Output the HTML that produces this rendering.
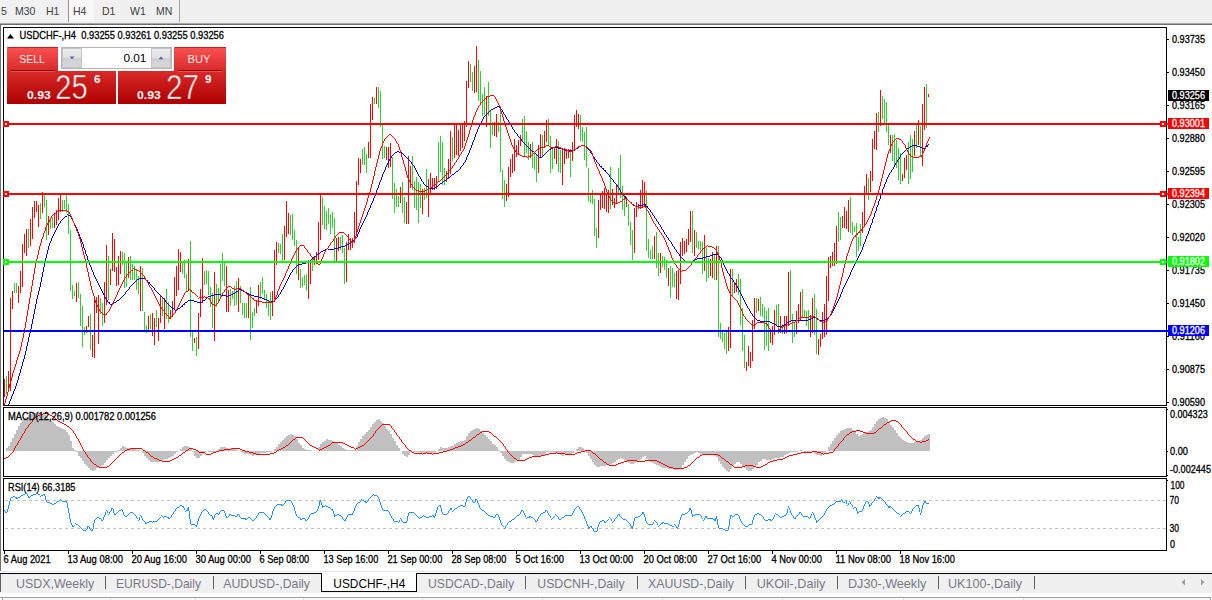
<!DOCTYPE html>
<html><head><meta charset="utf-8"><title>USDCHF-,H4</title>
<style>
html,body{margin:0;padding:0;background:#fff;}
body{width:1212px;height:600px;position:relative;overflow:hidden;font-family:"Liberation Sans",sans-serif;}
.tb{position:absolute;left:0;top:0;width:1212px;height:23px;background:#f0f0f0;}
.tb span{position:absolute;top:5px;font-size:10.5px;color:#404040;line-height:12px;white-space:nowrap;}
.l1{position:absolute;left:0;top:23px;width:1212px;height:1px;background:#a8a8a8;}
.l2{position:absolute;left:0;top:24px;width:1212px;height:1px;background:#6c6c6c;}
.lg{position:absolute;left:0;top:25px;width:1px;height:546px;background:#707070;}
.h4{position:absolute;left:69px;top:0;width:25px;height:21px;background:#f8f8f8;}
.vs{position:absolute;top:0;width:1px;height:22px;background:#a0a0a0;}
.oc{position:absolute;color:#fff;white-space:nowrap;}
</style></head><body>
<div class="tb">
<div class="h4"></div><div class="vs" style="left:68px;background:#909090"></div><div class="vs" style="left:179px"></div>
<span style="left:1px">5</span><span style="left:15px">M30</span><span style="left:46px">H1</span><span style="left:73px">H4</span><span style="left:102px">D1</span><span style="left:130px">W1</span><span style="left:156px">MN</span>
</div>
<div class="l1"></div><div class="l2"></div><div class="lg"></div>
<svg width="1212" height="600" viewBox="0 0 1212 600" style="position:absolute;left:0;top:0" font-family="Liberation Sans, sans-serif">
<g shape-rendering="crispEdges" fill="none" stroke="#000" stroke-width="1">
<rect x="3.5" y="27.5" width="1163" height="378"/>
<rect x="3.5" y="407.5" width="1163" height="69"/>
<rect x="3.5" y="478.5" width="1163" height="72"/>
<path d="M1167 39.5H1169"/>
<path d="M1167 72.5H1169"/>
<path d="M1167 105.5H1169"/>
<path d="M1167 138.5H1169"/>
<path d="M1167 171.5H1169"/>
<path d="M1167 204.5H1169"/>
<path d="M1167 237.5H1169"/>
<path d="M1167 270.5H1169"/>
<path d="M1167 303.5H1169"/>
<path d="M1167 336.5H1169"/>
<path d="M1167 369.5H1169"/>
<path d="M1167 402.5H1169"/>
<path d="M1167 409.5H1168M1167 451.5H1168M1167 475.5H1168M1167 480.5H1168"/>
<path d="M4.5 551V554"/>
<path d="M68.5 551V554"/>
<path d="M132.5 551V554"/>
<path d="M196.5 551V554"/>
<path d="M260.5 551V554"/>
<path d="M324.5 551V554"/>
<path d="M388.5 551V554"/>
<path d="M452.5 551V554"/>
<path d="M516.5 551V554"/>
<path d="M580.5 551V554"/>
<path d="M644.5 551V554"/>
<path d="M708.5 551V554"/>
<path d="M772.5 551V554"/>
<path d="M836.5 551V554"/>
<path d="M900.5 551V554"/>
</g>
<g shape-rendering="crispEdges" stroke="#c0c0c0" stroke-width="1" stroke-dasharray="3 3"><path d="M5 500.5H1166M5 528.5H1166"/></g>
<path shape-rendering="crispEdges" d="M4 451L4 451L6 451L6 448L8 448L8 446L10 446L10 442L12 442L12 438L14 438L14 434L16 434L16 430L18 430L18 426L20 426L20 423L22 423L22 420L24 420L24 418L26 418L26 417L28 417L28 415L30 415L30 414L32 414L32 413L34 413L34 413L36 413L36 412L38 412L38 413L40 413L40 414L42 414L42 414L44 414L44 415L46 415L46 417L48 417L48 419L50 419L50 421L52 421L52 422L54 422L54 424L56 424L56 426L58 426L58 427L60 427L60 428L62 428L62 429L64 429L64 430L66 430L66 432L68 432L68 435L70 435L70 441L72 441L72 448L74 448L74 450L76 450L76 452L78 452L78 456L80 456L80 458L82 458L82 461L84 461L84 464L86 464L86 466L88 466L88 468L90 468L90 470L92 470L92 471L94 471L94 470L96 470L96 468L98 468L98 467L100 467L100 466L102 466L102 465L104 465L104 463L106 463L106 460L108 460L108 458L110 458L110 456L112 456L112 454L114 454L114 452L116 452L116 452L118 452L118 450L120 450L120 448L122 448L122 446L124 446L124 447L126 447L126 448L128 448L128 448L130 448L130 448L132 448L132 448L134 448L134 449L136 449L136 450L138 450L138 450L140 450L140 451L142 451L142 453L144 453L144 456L146 456L146 458L148 458L148 460L150 460L150 462L152 462L152 462L154 462L154 462L156 462L156 462L158 462L158 462L160 462L160 461L162 461L162 460L164 460L164 459L166 459L166 459L168 459L168 458L170 458L170 457L172 457L172 456L174 456L174 454L176 454L176 452L178 452L178 451L180 451L180 449L182 449L182 447L184 447L184 446L186 446L186 446L188 446L188 447L190 447L190 449L192 449L192 452L194 452L194 456L196 456L196 458L198 458L198 458L200 458L200 456L202 456L202 454L204 454L204 452L206 452L206 451L208 451L208 452L210 452L210 452L212 452L212 452L214 452L214 452L216 452L216 452L218 452L218 449L220 449L220 447L222 447L222 447L224 447L224 447L226 447L226 448L228 448L228 449L230 449L230 449L232 449L232 449L234 449L234 449L236 449L236 450L238 450L238 451L240 451L240 452L242 452L242 453L244 453L244 454L246 454L246 454L248 454L248 454L250 454L250 455L252 455L252 456L254 456L254 455L256 455L256 454L258 454L258 454L260 454L260 453L262 453L262 453L264 453L264 453L266 453L266 452L268 452L268 452L270 452L270 452L272 452L272 451L274 451L274 449L276 449L276 447L278 447L278 444L280 444L280 442L282 442L282 440L284 440L284 438L286 438L286 436L288 436L288 435L290 435L290 434L292 434L292 435L294 435L294 436L296 436L296 439L298 439L298 443L300 443L300 445L302 445L302 448L304 448L304 449L306 449L306 450L308 450L308 450L310 450L310 450L312 450L312 451L314 451L314 451L316 451L316 451L318 451L318 447L320 447L320 444L322 444L322 442L324 442L324 441L326 441L326 439L328 439L328 440L330 440L330 440L332 440L332 441L334 441L334 442L336 442L336 443L338 443L338 445L340 445L340 446L342 446L342 448L344 448L344 449L346 449L346 450L348 450L348 450L350 450L350 450L352 450L352 450L354 450L354 450L356 450L356 446L358 446L358 442L360 442L360 439L362 439L362 436L364 436L364 434L366 434L366 432L368 432L368 430L370 430L370 427L372 427L372 424L374 424L374 422L376 422L376 420L378 420L378 419L380 419L380 421L382 421L382 423L384 423L384 426L386 426L386 429L388 429L388 431L390 431L390 434L392 434L392 438L394 438L394 441L396 441L396 445L398 445L398 448L400 448L400 451L402 451L402 454L404 454L404 456L406 456L406 457L408 457L408 455L410 455L410 452L412 452L412 452L414 452L414 452L416 452L416 452L418 452L418 452L420 452L420 453L422 453L422 453L424 453L424 453L426 453L426 453L428 453L428 453L430 453L430 453L432 453L432 453L434 453L434 452L436 452L436 451L438 451L438 449L440 449L440 447L442 447L442 448L444 448L444 448L446 448L446 448L448 448L448 447L450 447L450 446L452 446L452 446L454 446L454 444L456 444L456 443L458 443L458 442L460 442L460 441L462 441L462 441L464 441L464 440L466 440L466 436L468 436L468 433L470 433L470 431L472 431L472 430L474 430L474 429L476 429L476 428L478 428L478 429L480 429L480 431L482 431L482 433L484 433L484 435L486 435L486 437L488 437L488 439L490 439L490 441L492 441L492 444L494 444L494 445L496 445L496 447L498 447L498 450L500 450L500 453L502 453L502 456L504 456L504 459L506 459L506 461L508 461L508 462L510 462L510 463L512 463L512 463L514 463L514 462L516 462L516 461L518 461L518 460L520 460L520 457L522 457L522 454L524 454L524 454L526 454L526 454L528 454L528 454L530 454L530 454L532 454L532 455L534 455L534 456L536 456L536 456L538 456L538 456L540 456L540 456L542 456L542 455L544 455L544 454L546 454L546 452L548 452L548 452L550 452L550 452L552 452L552 452L554 452L554 453L556 453L556 453L558 453L558 454L560 454L560 455L562 455L562 456L564 456L564 454L566 454L566 454L568 454L568 454L570 454L570 454L572 454L572 453L574 453L574 451L576 451L576 449L578 449L578 447L580 447L580 447L582 447L582 448L584 448L584 450L586 450L586 453L588 453L588 456L590 456L590 459L592 459L592 462L594 462L594 465L596 465L596 467L598 467L598 467L600 467L600 466L602 466L602 466L604 466L604 466L606 466L606 465L608 465L608 465L610 465L610 464L612 464L612 463L614 463L614 462L616 462L616 460L618 460L618 459L620 459L620 458L622 458L622 459L624 459L624 460L626 460L626 462L628 462L628 463L630 463L630 464L632 464L632 464L634 464L634 463L636 463L636 462L638 462L638 460L640 460L640 459L642 459L642 457L644 457L644 456L646 456L646 459L648 459L648 461L650 461L650 462L652 462L652 463L654 463L654 464L656 464L656 465L658 465L658 466L660 466L660 467L662 467L662 468L664 468L664 468L666 468L666 468L668 468L668 469L670 469L670 469L672 469L672 469L674 469L674 470L676 470L676 470L678 470L678 469L680 469L680 468L682 468L682 465L684 465L684 462L686 462L686 459L688 459L688 456L690 456L690 455L692 455L692 454L694 454L694 453L696 453L696 452L698 452L698 453L700 453L700 454L702 454L702 454L704 454L704 454L706 454L706 454L708 454L708 454L710 454L710 455L712 455L712 455L714 455L714 456L716 456L716 457L718 457L718 461L720 461L720 464L722 464L722 467L724 467L724 469L726 469L726 471L728 471L728 472L730 472L730 469L732 469L732 466L734 466L734 464L736 464L736 462L738 462L738 462L740 462L740 464L742 464L742 466L744 466L744 468L746 468L746 470L748 470L748 471L750 471L750 471L752 471L752 469L754 469L754 467L756 467L756 465L758 465L758 462L760 462L760 461L762 461L762 459L764 459L764 459L766 459L766 460L768 460L768 460L770 460L770 460L772 460L772 459L774 459L774 458L776 458L776 458L778 458L778 458L780 458L780 457L782 457L782 457L784 457L784 455L786 455L786 454L788 454L788 453L790 453L790 452L792 452L792 452L794 452L794 452L796 452L796 452L798 452L798 451L800 451L800 450L802 450L802 451L804 451L804 452L806 452L806 452L808 452L808 452L810 452L810 452L812 452L812 452L814 452L814 454L816 454L816 455L818 455L818 455L820 455L820 456L822 456L822 454L824 454L824 452L826 452L826 451L828 451L828 447L830 447L830 444L832 444L832 441L834 441L834 438L836 438L836 435L838 435L838 433L840 433L840 431L842 431L842 430L844 430L844 429L846 429L846 428L848 428L848 428L850 428L850 428L852 428L852 430L854 430L854 432L856 432L856 434L858 434L858 436L860 436L860 435L862 435L862 434L864 434L864 433L866 433L866 432L868 432L868 431L870 431L870 430L872 430L872 427L874 427L874 424L876 424L876 421L878 421L878 419L880 419L880 418L882 418L882 417L884 417L884 418L886 418L886 419L888 419L888 422L890 422L890 425L892 425L892 427L894 427L894 430L896 430L896 433L898 433L898 436L900 436L900 438L902 438L902 440L904 440L904 441L906 441L906 442L908 442L908 443L910 443L910 443L912 443L912 443L914 443L914 442L916 442L916 441L918 441L918 441L920 441L920 440L922 440L922 438L924 438L924 436L926 436L926 435L928 435L928 434L930 434L930 451Z" fill="#c0c0c0"/>
<path shape-rendering="crispEdges" d="M4.5 458V459M5.5 458V459M6.5 457V458M7.5 457V458M8.5 456V457M9.5 455V456M10.5 454V455M11.5 453V454M12.5 452V453M13.5 450V452M14.5 448V450M15.5 446V448M16.5 445V446M17.5 443V445M18.5 441V443M19.5 440V441M20.5 438V440M21.5 436V438M22.5 434V436M23.5 433V434M24.5 431V433M25.5 429V431M26.5 428V429M27.5 427V428M28.5 425V427M29.5 424V425M30.5 423V424M31.5 422V423M32.5 420V422M33.5 419V420M34.5 418V419M35.5 417V418M36.5 416V417M37.5 416V417M38.5 415V416M39.5 415V416M40.5 414V415M41.5 414V415M42.5 414V415M43.5 413V414M44.5 413V414M45.5 413V414M46.5 413V414M47.5 413V414M48.5 414V415M49.5 414V415M50.5 415V416M51.5 415V416M52.5 416V417M53.5 416V417M54.5 417V418M55.5 418V419M56.5 419V420M57.5 420V421M58.5 421V422M59.5 421V422M60.5 422V423M61.5 422V423M62.5 423V424M63.5 423V424M64.5 424V425M65.5 424V425M66.5 425V426M67.5 426V427M68.5 426V427M69.5 427V428M70.5 428V429M71.5 429V430M72.5 430V431M73.5 431V433M74.5 433V434M75.5 434V436M76.5 436V438M77.5 438V439M78.5 439V441M79.5 441V443M80.5 443V445M81.5 445V447M82.5 447V449M83.5 449V451M84.5 451V452M85.5 452V454M86.5 454V455M87.5 455V457M88.5 457V458M89.5 458V459M90.5 459V461M91.5 461V462M92.5 462V463M93.5 463V464M94.5 464V465M95.5 464V465M96.5 465V466M97.5 466V467M98.5 466V467M99.5 467V468M100.5 467V468M101.5 467V468M102.5 467V468M103.5 467V468M104.5 467V468M105.5 467V468M106.5 467V468M107.5 466V467M108.5 466V467M109.5 465V466M110.5 464V465M111.5 463V464M112.5 462V463M113.5 461V462M114.5 460V461M115.5 459V460M116.5 458V459M117.5 457V458M118.5 456V457M119.5 455V456M120.5 454V455M121.5 453V454M122.5 452V453M123.5 452V453M124.5 451V452M125.5 450V451M126.5 450V451M127.5 449V450M128.5 449V450M129.5 449V450M130.5 448V449M131.5 448V449M132.5 448V449M133.5 448V449M134.5 448V449M135.5 448V449M136.5 448V449M137.5 448V449M138.5 448V449M139.5 448V449M140.5 448V449M141.5 448V449M142.5 449V450M143.5 450V451M144.5 450V451M145.5 451V452M146.5 452V453M147.5 452V453M148.5 453V454M149.5 454V455M150.5 455V456M151.5 456V457M152.5 456V457M153.5 457V458M154.5 458V459M155.5 458V459M156.5 458V459M157.5 459V460M158.5 459V460M159.5 460V461M160.5 460V461M161.5 460V461M162.5 461V462M163.5 461V462M164.5 461V462M165.5 461V462M166.5 461V462M167.5 461V462M168.5 461V462M169.5 461V462M170.5 460V461M171.5 460V461M172.5 459V460M173.5 459V460M174.5 458V459M175.5 458V459M176.5 457V458M177.5 457V458M178.5 456V457M179.5 455V456M180.5 455V456M181.5 454V455M182.5 453V454M183.5 452V453M184.5 452V453M185.5 451V452M186.5 450V451M187.5 450V451M188.5 449V450M189.5 448V449M190.5 448V449M191.5 448V449M192.5 448V449M193.5 449V450M194.5 449V450M195.5 449V450M196.5 450V451M197.5 450V451M198.5 451V452M199.5 452V453M200.5 452V453M201.5 452V453M202.5 452V453M203.5 452V453M204.5 452V453M205.5 453V454M206.5 454V455M207.5 454V455M208.5 454V455M209.5 454V455M210.5 454V455M211.5 453V454M212.5 453V454M213.5 452V453M214.5 452V453M215.5 452V453M216.5 451V452M217.5 451V452M218.5 451V452M219.5 450V451M220.5 450V451M221.5 450V451M222.5 450V451M223.5 450V451M224.5 449V450M225.5 449V450M226.5 449V450M227.5 449V450M228.5 449V450M229.5 449V450M230.5 449V450M231.5 448V449M232.5 448V449M233.5 448V449M234.5 448V449M235.5 448V449M236.5 448V449M237.5 448V449M238.5 448V449M239.5 448V449M240.5 449V450M241.5 449V450M242.5 450V451M243.5 450V451M244.5 450V451M245.5 451V452M246.5 451V452M247.5 451V452M248.5 451V452M249.5 452V453M250.5 452V453M251.5 452V453M252.5 452V453M253.5 453V454M254.5 453V454M255.5 453V454M256.5 454V455M257.5 454V455M258.5 454V455M259.5 454V455M260.5 454V455M261.5 454V455M262.5 454V455M263.5 454V455M264.5 454V455M265.5 454V455M266.5 454V455M267.5 454V455M268.5 454V455M269.5 454V455M270.5 453V454M271.5 453V454M272.5 453V454M273.5 453V454M274.5 452V453M275.5 452V453M276.5 451V452M277.5 450V451M278.5 450V451M279.5 449V450M280.5 449V450M281.5 448V449M282.5 448V449M283.5 447V448M284.5 447V448M285.5 446V447M286.5 445V446M287.5 445V446M288.5 444V445M289.5 443V444M290.5 442V443M291.5 441V442M292.5 440V441M293.5 439V440M294.5 439V440M295.5 438V439M296.5 437V438M297.5 437V438M298.5 437V438M299.5 437V438M300.5 437V438M301.5 437V438M302.5 437V438M303.5 438V439M304.5 439V440M305.5 440V441M306.5 441V442M307.5 442V443M308.5 443V444M309.5 444V445M310.5 445V446M311.5 445V446M312.5 446V447M313.5 446V447M314.5 447V448M315.5 447V448M316.5 448V449M317.5 448V449M318.5 449V450M319.5 450V451M320.5 449V450M321.5 449V450M322.5 448V449M323.5 448V449M324.5 447V448M325.5 447V448M326.5 446V447M327.5 446V447M328.5 445V446M329.5 445V446M330.5 444V445M331.5 443V444M332.5 442V443M333.5 442V443M334.5 442V443M335.5 442V443M336.5 442V443M337.5 442V443M338.5 442V443M339.5 442V443M340.5 442V443M341.5 442V443M342.5 442V443M343.5 443V444M344.5 443V444M345.5 444V445M346.5 444V445M347.5 445V446M348.5 445V446M349.5 446V447M350.5 446V447M351.5 447V448M352.5 447V448M353.5 447V448M354.5 448V449M355.5 449V450M356.5 448V449M357.5 448V449M358.5 447V448M359.5 447V448M360.5 446V447M361.5 446V447M362.5 445V446M363.5 445V446M364.5 444V445M365.5 443V444M366.5 442V443M367.5 441V442M368.5 440V441M369.5 439V440M370.5 438V439M371.5 437V438M372.5 436V437M373.5 434V436M374.5 433V434M375.5 431V433M376.5 430V431M377.5 429V430M378.5 428V429M379.5 427V428M380.5 426V427M381.5 425V426M382.5 424V425M383.5 424V425M384.5 424V425M385.5 424V425M386.5 424V425M387.5 424V425M388.5 424V425M389.5 424V425M390.5 425V426M391.5 426V428M392.5 428V429M393.5 429V430M394.5 430V432M395.5 432V433M396.5 433V435M397.5 435V436M398.5 436V437M399.5 437V439M400.5 439V440M401.5 440V442M402.5 442V443M403.5 443V444M404.5 444V445M405.5 445V447M406.5 447V448M407.5 448V449M408.5 449V450M409.5 450V451M410.5 450V451M411.5 451V452M412.5 452V453M413.5 452V453M414.5 453V454M415.5 453V454M416.5 453V454M417.5 453V454M418.5 453V454M419.5 453V454M420.5 453V454M421.5 453V454M422.5 454V455M423.5 453V454M424.5 453V454M425.5 453V454M426.5 452V453M427.5 453V454M428.5 453V454M429.5 453V454M430.5 453V454M431.5 453V454M432.5 454V455M433.5 453V454M434.5 453V454M435.5 453V454M436.5 453V454M437.5 453V454M438.5 453V454M439.5 452V453M440.5 452V453M441.5 452V453M442.5 452V453M443.5 451V452M444.5 451V452M445.5 451V452M446.5 451V452M447.5 450V451M448.5 450V451M449.5 450V451M450.5 449V450M451.5 449V450M452.5 449V450M453.5 448V449M454.5 448V449M455.5 447V448M456.5 447V448M457.5 447V448M458.5 446V447M459.5 446V447M460.5 446V447M461.5 445V446M462.5 445V446M463.5 444V445M464.5 444V445M465.5 443V444M466.5 442V443M467.5 442V443M468.5 441V442M469.5 440V441M470.5 440V441M471.5 439V440M472.5 438V439M473.5 437V438M474.5 437V438M475.5 436V437M476.5 435V436M477.5 434V435M478.5 434V435M479.5 433V434M480.5 432V433M481.5 432V433M482.5 431V432M483.5 431V432M484.5 431V432M485.5 431V432M486.5 431V432M487.5 431V432M488.5 431V432M489.5 432V433M490.5 432V433M491.5 433V434M492.5 434V435M493.5 435V436M494.5 436V437M495.5 436V437M496.5 437V438M497.5 438V439M498.5 439V440M499.5 440V441M500.5 441V442M501.5 442V443M502.5 443V444M503.5 444V446M504.5 446V447M505.5 447V449M506.5 449V450M507.5 450V452M508.5 452V453M509.5 453V454M510.5 454V455M511.5 455V456M512.5 456V457M513.5 457V458M514.5 458V459M515.5 458V459M516.5 459V460M517.5 460V461M518.5 460V461M519.5 460V461M520.5 460V461M521.5 460V461M522.5 460V461M523.5 460V461M524.5 460V461M525.5 459V460M526.5 459V460M527.5 458V459M528.5 458V459M529.5 457V458M530.5 457V458M531.5 457V458M532.5 456V457M533.5 456V457M534.5 456V457M535.5 456V457M536.5 456V457M537.5 456V457M538.5 456V457M539.5 456V457M540.5 456V457M541.5 455V456M542.5 455V456M543.5 455V456M544.5 455V456M545.5 454V455M546.5 454V455M547.5 454V455M548.5 454V455M549.5 453V454M550.5 453V454M551.5 453V454M552.5 453V454M553.5 453V454M554.5 453V454M555.5 453V454M556.5 452V453M557.5 453V454M558.5 453V454M559.5 453V454M560.5 453V454M561.5 453V454M562.5 453V454M563.5 453V454M564.5 453V454M565.5 454V455M566.5 454V455M567.5 454V455M568.5 454V455M569.5 454V455M570.5 454V455M571.5 454V455M572.5 454V455M573.5 454V455M574.5 454V455M575.5 453V454M576.5 453V454M577.5 452V453M578.5 452V453M579.5 452V453M580.5 452V453M581.5 451V452M582.5 451V452M583.5 451V452M584.5 451V452M585.5 450V451M586.5 450V451M587.5 450V451M588.5 450V451M589.5 450V451M590.5 450V451M591.5 451V452M592.5 452V453M593.5 453V454M594.5 453V454M595.5 454V455M596.5 455V456M597.5 456V457M598.5 457V458M599.5 458V459M600.5 459V460M601.5 459V460M602.5 460V461M603.5 461V462M604.5 462V463M605.5 462V463M606.5 463V464M607.5 464V465M608.5 464V465M609.5 465V466M610.5 465V466M611.5 465V466M612.5 465V466M613.5 465V466M614.5 465V466M615.5 465V466M616.5 464V465M617.5 464V465M618.5 463V464M619.5 463V464M620.5 463V464M621.5 462V463M622.5 462V463M623.5 462V463M624.5 461V462M625.5 461V462M626.5 461V462M627.5 460V461M628.5 460V461M629.5 460V461M630.5 460V461M631.5 460V461M632.5 460V461M633.5 460V461M634.5 460V461M635.5 460V461M636.5 460V461M637.5 461V462M638.5 461V462M639.5 461V462M640.5 461V462M641.5 461V462M642.5 461V462M643.5 461V462M644.5 461V462M645.5 460V461M646.5 460V461M647.5 460V461M648.5 460V461M649.5 460V461M650.5 460V461M651.5 460V461M652.5 460V461M653.5 460V461M654.5 460V461M655.5 460V461M656.5 460V461M657.5 461V462M658.5 461V462M659.5 462V463M660.5 462V463M661.5 463V464M662.5 463V464M663.5 464V465M664.5 464V465M665.5 465V466M666.5 465V466M667.5 466V467M668.5 466V467M669.5 467V468M670.5 467V468M671.5 467V468M672.5 467V468M673.5 468V469M674.5 468V469M675.5 468V469M676.5 468V469M677.5 468V469M678.5 468V469M679.5 468V469M680.5 468V469M681.5 468V469M682.5 468V469M683.5 468V469M684.5 467V468M685.5 467V468M686.5 467V468M687.5 466V467M688.5 465V466M689.5 465V466M690.5 464V465M691.5 463V464M692.5 462V463M693.5 461V462M694.5 460V461M695.5 459V460M696.5 458V459M697.5 457V458M698.5 457V458M699.5 456V457M700.5 455V456M701.5 455V456M702.5 454V455M703.5 454V455M704.5 454V455M705.5 454V455M706.5 454V455M707.5 454V455M708.5 454V455M709.5 454V455M710.5 454V455M711.5 454V455M712.5 454V455M713.5 454V455M714.5 454V455M715.5 454V455M716.5 454V455M717.5 454V455M718.5 455V456M719.5 455V456M720.5 456V457M721.5 457V458M722.5 458V459M723.5 458V459M724.5 459V460M725.5 460V461M726.5 461V462M727.5 461V462M728.5 462V463M729.5 463V464M730.5 464V465M731.5 464V465M732.5 465V466M733.5 466V467M734.5 467V468M735.5 467V468M736.5 467V468M737.5 467V468M738.5 467V468M739.5 467V468M740.5 467V468M741.5 467V468M742.5 466V467M743.5 466V467M744.5 466V467M745.5 465V466M746.5 465V466M747.5 465V466M748.5 465V466M749.5 465V466M750.5 465V466M751.5 465V466M752.5 465V466M753.5 466V467M754.5 466V467M755.5 466V467M756.5 467V468M757.5 467V468M758.5 467V468M759.5 467V468M760.5 467V468M761.5 466V467M762.5 466V467M763.5 465V466M764.5 465V466M765.5 464V465M766.5 464V465M767.5 463V464M768.5 462V463M769.5 462V463M770.5 461V462M771.5 461V462M772.5 461V462M773.5 460V461M774.5 460V461M775.5 460V461M776.5 460V461M777.5 459V460M778.5 459V460M779.5 459V460M780.5 459V460M781.5 459V460M782.5 459V460M783.5 458V459M784.5 458V459M785.5 457V458M786.5 457V458M787.5 456V457M788.5 456V457M789.5 455V456M790.5 455V456M791.5 455V456M792.5 455V456M793.5 454V455M794.5 454V455M795.5 454V455M796.5 454V455M797.5 453V454M798.5 453V454M799.5 453V454M800.5 453V454M801.5 452V453M802.5 452V453M803.5 452V453M804.5 452V453M805.5 452V453M806.5 452V453M807.5 452V453M808.5 452V453M809.5 452V453M810.5 452V453M811.5 452V453M812.5 451V452M813.5 451V452M814.5 451V452M815.5 451V452M816.5 451V452M817.5 452V453M818.5 452V453M819.5 452V453M820.5 452V453M821.5 453V454M822.5 453V454M823.5 454V455M824.5 453V454M825.5 453V454M826.5 453V454M827.5 453V454M828.5 453V454M829.5 452V453M830.5 452V453M831.5 452V453M832.5 452V453M833.5 451V452M834.5 449V451M835.5 448V449M836.5 447V448M837.5 446V447M838.5 444V446M839.5 443V444M840.5 442V443M841.5 441V442M842.5 440V441M843.5 438V440M844.5 437V438M845.5 436V437M846.5 435V436M847.5 434V435M848.5 434V435M849.5 433V434M850.5 432V433M851.5 432V433M852.5 431V432M853.5 431V432M854.5 431V432M855.5 431V432M856.5 430V431M857.5 430V431M858.5 430V431M859.5 430V431M860.5 431V432M861.5 431V432M862.5 431V432M863.5 432V433M864.5 432V433M865.5 432V433M866.5 433V434M867.5 433V434M868.5 433V434M869.5 433V434M870.5 433V434M871.5 433V434M872.5 433V434M873.5 433V434M874.5 432V433M875.5 432V433M876.5 431V432M877.5 430V431M878.5 429V430M879.5 428V429M880.5 428V429M881.5 427V428M882.5 426V427M883.5 425V426M884.5 424V425M885.5 424V425M886.5 423V424M887.5 422V423M888.5 422V423M889.5 421V422M890.5 421V422M891.5 420V421M892.5 420V421M893.5 420V421M894.5 420V421M895.5 420V421M896.5 421V422M897.5 421V422M898.5 422V423M899.5 423V424M900.5 424V425M901.5 425V427M902.5 427V428M903.5 428V429M904.5 429V430M905.5 430V431M906.5 431V432M907.5 432V434M908.5 434V435M909.5 435V436M910.5 436V437M911.5 437V438M912.5 438V439M913.5 439V440M914.5 439V440M915.5 440V441M916.5 441V442M917.5 441V442M918.5 441V442M919.5 441V442M920.5 442V443M921.5 442V443M922.5 441V442M923.5 441V442M924.5 441V442M925.5 441V442M926.5 440V441M927.5 440V441M928.5 439V440" fill="none" stroke="#ff0000" stroke-width="1"/>
<path shape-rendering="crispEdges" d="M4.5 510V511M5.5 511V513M6.5 512V513M7.5 509V512M8.5 505V509M9.5 501V505M10.5 498V501M11.5 497V498M12.5 497V498M13.5 496V497M14.5 496V497M15.5 497V498M16.5 497V499M17.5 498V499M18.5 497V498M19.5 497V498M20.5 496V497M21.5 495V496M22.5 495V496M23.5 494V495M24.5 494V495M25.5 493V494M26.5 493V494M27.5 494V496M28.5 496V498M29.5 497V498M30.5 496V497M31.5 495V496M32.5 495V496M33.5 494V495M34.5 494V495M35.5 494V495M36.5 493V494M37.5 493V494M38.5 494V495M39.5 494V495M40.5 496V497M41.5 495V496M42.5 495V496M43.5 494V495M44.5 494V496M45.5 496V500M46.5 500V502M47.5 502V503M48.5 502V503M49.5 502V503M50.5 503V504M51.5 503V504M52.5 504V505M53.5 504V505M54.5 503V504M55.5 503V504M56.5 502V503M57.5 501V502M58.5 501V502M59.5 500V501M60.5 499V500M61.5 500V501M62.5 501V502M63.5 501V502M64.5 501V502M65.5 501V502M66.5 501V503M67.5 503V508M68.5 508V513M69.5 513V519M70.5 519V523M71.5 523V525M72.5 525V527M73.5 526V527M74.5 525V526M75.5 523V524M76.5 524V525M77.5 524V525M78.5 525V526M79.5 526V527M80.5 527V528M81.5 528V529M82.5 529V530M83.5 530V531M84.5 530V531M85.5 530V531M86.5 529V530M87.5 526V529M88.5 526V527M89.5 527V529M90.5 529V530M91.5 530V531M92.5 529V531M93.5 523V529M94.5 520V523M95.5 519V520M96.5 518V519M97.5 517V518M98.5 517V518M99.5 518V519M100.5 518V519M101.5 519V521M102.5 520V521M103.5 517V520M104.5 515V517M105.5 512V515M106.5 510V511M107.5 511V513M108.5 514V515M109.5 512V514M110.5 511V512M111.5 508V511M112.5 508V509M113.5 509V513M114.5 513V515M115.5 514V515M116.5 513V514M117.5 512V513M118.5 511V512M119.5 510V511M120.5 510V511M121.5 509V510M122.5 510V512M123.5 512V515M124.5 515V516M125.5 516V517M126.5 516V517M127.5 515V516M128.5 514V515M129.5 513V514M130.5 512V513M131.5 512V513M132.5 512V513M133.5 513V514M134.5 514V515M135.5 515V516M136.5 516V518M137.5 518V519M138.5 520V521M139.5 517V520M140.5 515V516M141.5 516V518M142.5 518V520M143.5 520V521M144.5 521V522M145.5 522V524M146.5 523V524M147.5 522V523M148.5 522V523M149.5 521V522M150.5 521V522M151.5 521V522M152.5 522V523M153.5 521V522M154.5 521V522M155.5 521V522M156.5 521V522M157.5 520V521M158.5 519V520M159.5 518V519M160.5 517V518M161.5 515V516M162.5 516V517M163.5 517V518M164.5 516V517M165.5 516V517M166.5 516V517M167.5 517V518M168.5 517V519M169.5 518V519M170.5 517V518M171.5 515V517M172.5 514V515M173.5 512V514M174.5 511V512M175.5 509V511M176.5 508V509M177.5 507V508M178.5 507V508M179.5 506V507M180.5 505V506M181.5 505V506M182.5 506V507M183.5 506V508M184.5 508V510M185.5 511V512M186.5 510V511M187.5 508V511M188.5 507V511M189.5 511V519M190.5 519V524M191.5 524V525M192.5 524V525M193.5 524V525M194.5 524V525M195.5 525V526M196.5 525V527M197.5 521V525M198.5 518V521M199.5 516V518M200.5 514V516M201.5 512V514M202.5 511V512M203.5 510V511M204.5 509V510M205.5 509V510M206.5 510V511M207.5 511V512M208.5 512V514M209.5 514V515M210.5 515V516M211.5 515V516M212.5 516V519M213.5 518V520M214.5 515V518M215.5 514V515M216.5 513V514M217.5 513V514M218.5 514V515M219.5 512V514M220.5 511V512M221.5 510V511M222.5 510V511M223.5 510V511M224.5 511V513M225.5 513V516M226.5 516V518M227.5 517V518M228.5 516V517M229.5 514V516M230.5 514V515M231.5 515V516M232.5 515V516M233.5 515V516M234.5 515V516M235.5 516V517M236.5 516V517M237.5 514V516M238.5 514V515M239.5 515V517M240.5 517V518M241.5 518V519M242.5 518V519M243.5 518V519M244.5 518V519M245.5 518V520M246.5 519V520M247.5 518V519M248.5 517V518M249.5 517V518M250.5 518V519M251.5 519V520M252.5 520V521M253.5 520V521M254.5 519V520M255.5 518V519M256.5 516V518M257.5 515V516M258.5 513V515M259.5 512V513M260.5 512V513M261.5 512V513M262.5 512V513M263.5 512V513M264.5 513V514M265.5 514V515M266.5 515V516M267.5 516V517M268.5 517V518M269.5 518V520M270.5 518V520M271.5 515V518M272.5 511V515M273.5 509V511M274.5 507V509M275.5 506V507M276.5 505V506M277.5 504V505M278.5 504V505M279.5 504V505M280.5 504V505M281.5 504V506M282.5 505V506M283.5 504V505M284.5 503V504M285.5 501V503M286.5 500V501M287.5 500V501M288.5 500V501M289.5 500V501M290.5 500V501M291.5 501V503M292.5 503V505M293.5 505V507M294.5 507V511M295.5 511V514M296.5 514V516M297.5 516V517M298.5 517V518M299.5 517V518M300.5 518V520M301.5 519V520M302.5 518V519M303.5 518V519M304.5 518V519M305.5 519V521M306.5 520V521M307.5 519V520M308.5 517V519M309.5 515V517M310.5 514V515M311.5 513V514M312.5 513V514M313.5 513V514M314.5 512V513M315.5 512V513M316.5 511V512M317.5 509V511M318.5 506V509M319.5 501V506M320.5 500V502M321.5 502V505M322.5 505V508M323.5 506V507M324.5 506V507M325.5 505V506M326.5 506V507M327.5 506V507M328.5 507V508M329.5 507V508M330.5 508V509M331.5 509V510M332.5 509V511M333.5 511V514M334.5 514V517M335.5 515V516M336.5 515V516M337.5 514V515M338.5 514V515M339.5 515V516M340.5 515V516M341.5 516V517M342.5 517V519M343.5 519V520M344.5 520V521M345.5 519V521M346.5 517V519M347.5 515V517M348.5 514V515M349.5 514V515M350.5 514V515M351.5 514V515M352.5 513V515M353.5 511V513M354.5 508V511M355.5 506V508M356.5 504V506M357.5 503V504M358.5 502V503M359.5 502V503M360.5 501V502M361.5 499V500M362.5 500V501M363.5 500V501M364.5 501V502M365.5 501V503M366.5 502V503M367.5 501V502M368.5 499V501M369.5 498V499M370.5 497V498M371.5 496V497M372.5 495V496M373.5 494V495M374.5 495V496M375.5 495V496M376.5 495V496M377.5 496V497M378.5 497V499M379.5 499V502M380.5 502V505M381.5 505V508M382.5 508V510M383.5 510V511M384.5 510V511M385.5 510V511M386.5 510V511M387.5 510V511M388.5 511V512M389.5 512V514M390.5 514V516M391.5 516V518M392.5 518V519M393.5 519V521M394.5 521V522M395.5 521V522M396.5 521V522M397.5 521V522M398.5 522V523M399.5 520V522M400.5 518V519M401.5 519V521M402.5 521V522M403.5 522V523M404.5 522V523M405.5 522V523M406.5 521V523M407.5 516V521M408.5 513V516M409.5 512V513M410.5 512V513M411.5 512V513M412.5 512V513M413.5 512V513M414.5 513V514M415.5 514V515M416.5 515V516M417.5 516V517M418.5 517V518M419.5 518V519M420.5 517V518M421.5 517V518M422.5 516V517M423.5 515V516M424.5 516V517M425.5 516V517M426.5 517V518M427.5 517V518M428.5 517V518M429.5 516V517M430.5 516V517M431.5 516V517M432.5 515V516M433.5 515V517M434.5 516V518M435.5 513V516M436.5 510V513M437.5 507V510M438.5 506V507M439.5 505V506M440.5 505V508M441.5 508V512M442.5 512V514M443.5 514V515M444.5 514V515M445.5 514V515M446.5 514V515M447.5 513V514M448.5 511V513M449.5 510V511M450.5 508V510M451.5 508V510M452.5 511V512M453.5 510V511M454.5 509V510M455.5 508V509M456.5 508V509M457.5 507V508M458.5 506V507M459.5 506V507M460.5 505V506M461.5 505V506M462.5 505V506M463.5 506V507M464.5 506V507M465.5 502V506M466.5 499V502M467.5 497V499M468.5 496V497M469.5 496V497M470.5 497V499M471.5 499V500M472.5 500V502M473.5 502V503M474.5 502V503M475.5 499V502M476.5 499V500M477.5 500V503M478.5 503V505M479.5 505V508M480.5 508V509M481.5 509V510M482.5 510V511M483.5 510V511M484.5 511V512M485.5 512V513M486.5 513V514M487.5 514V515M488.5 515V516M489.5 515V516M490.5 516V517M491.5 516V517M492.5 516V517M493.5 517V518M494.5 517V518M495.5 515V517M496.5 514V515M497.5 514V515M498.5 515V517M499.5 517V520M500.5 520V523M501.5 523V525M502.5 525V526M503.5 526V527M504.5 528V529M505.5 526V528M506.5 525V526M507.5 523V525M508.5 522V523M509.5 521V522M510.5 521V522M511.5 520V521M512.5 519V520M513.5 519V520M514.5 518V519M515.5 517V518M516.5 516V517M517.5 515V516M518.5 515V516M519.5 514V515M520.5 512V514M521.5 510V512M522.5 510V511M523.5 511V513M524.5 513V515M525.5 515V517M526.5 518V519M527.5 517V518M528.5 517V518M529.5 516V518M530.5 516V517M531.5 517V518M532.5 517V518M533.5 518V519M534.5 519V520M535.5 520V522M536.5 521V522M537.5 519V521M538.5 517V519M539.5 516V517M540.5 514V516M541.5 513V514M542.5 513V514M543.5 512V513M544.5 512V513M545.5 510V512M546.5 510V511M547.5 511V513M548.5 513V515M549.5 515V516M550.5 516V518M551.5 519V520M552.5 518V519M553.5 517V518M554.5 516V517M555.5 514V515M556.5 515V516M557.5 516V517M558.5 517V519M559.5 519V520M560.5 519V520M561.5 518V519M562.5 517V518M563.5 517V518M564.5 516V517M565.5 515V516M566.5 515V516M567.5 515V516M568.5 515V516M569.5 515V516M570.5 515V516M571.5 515V516M572.5 513V515M573.5 511V513M574.5 509V511M575.5 508V509M576.5 507V508M577.5 506V507M578.5 506V507M579.5 507V509M580.5 509V510M581.5 510V512M582.5 512V514M583.5 514V516M584.5 516V519M585.5 519V521M586.5 521V524M587.5 524V526M588.5 526V529M589.5 527V528M590.5 526V527M591.5 526V528M592.5 528V529M593.5 529V531M594.5 531V532M595.5 531V532M596.5 531V532M597.5 527V531M598.5 524V527M599.5 522V524M600.5 521V522M601.5 521V522M602.5 520V521M603.5 520V521M604.5 521V523M605.5 522V523M606.5 521V522M607.5 520V521M608.5 519V520M609.5 517V518M610.5 518V519M611.5 519V521M612.5 522V523M613.5 521V522M614.5 519V521M615.5 518V519M616.5 517V518M617.5 515V517M618.5 514V515M619.5 514V516M620.5 516V517M621.5 517V518M622.5 518V519M623.5 519V520M624.5 519V520M625.5 519V520M626.5 520V521M627.5 521V522M628.5 522V523M629.5 523V524M630.5 524V526M631.5 526V528M632.5 526V529M633.5 521V526M634.5 518V521M635.5 517V518M636.5 517V518M637.5 517V518M638.5 516V517M639.5 516V517M640.5 515V516M641.5 514V515M642.5 512V514M643.5 512V514M644.5 514V517M645.5 517V521M646.5 521V523M647.5 523V524M648.5 524V525M649.5 524V525M650.5 524V525M651.5 524V525M652.5 524V525M653.5 522V524M654.5 520V521M655.5 521V522M656.5 522V523M657.5 523V525M658.5 526V527M659.5 525V526M660.5 524V525M661.5 523V524M662.5 522V524M663.5 522V523M664.5 523V524M665.5 523V524M666.5 523V524M667.5 523V524M668.5 524V525M669.5 524V525M670.5 525V526M671.5 525V526M672.5 526V527M673.5 526V527M674.5 524V525M675.5 525V526M676.5 526V528M677.5 527V529M678.5 524V527M679.5 520V524M680.5 517V520M681.5 515V517M682.5 514V515M683.5 514V515M684.5 514V515M685.5 513V514M686.5 513V514M687.5 512V513M688.5 511V512M689.5 508V511M690.5 508V510M691.5 510V514M692.5 514V517M693.5 515V516M694.5 515V516M695.5 514V515M696.5 514V515M697.5 514V515M698.5 514V515M699.5 514V515M700.5 515V516M701.5 516V518M702.5 518V519M703.5 520V521M704.5 518V520M705.5 516V518M706.5 516V518M707.5 518V519M708.5 518V519M709.5 518V519M710.5 518V519M711.5 518V519M712.5 518V519M713.5 519V520M714.5 519V521M715.5 518V521M716.5 516V519M717.5 519V525M718.5 525V528M719.5 528V529M720.5 528V529M721.5 528V529M722.5 528V529M723.5 529V530M724.5 529V530M725.5 530V531M726.5 530V531M727.5 530V531M728.5 526V530M729.5 519V526M730.5 515V519M731.5 515V516M732.5 516V517M733.5 516V517M734.5 515V516M735.5 514V515M736.5 514V515M737.5 514V515M738.5 515V516M739.5 516V519M740.5 519V521M741.5 521V523M742.5 523V524M743.5 524V525M744.5 525V526M745.5 526V527M746.5 526V527M747.5 526V527M748.5 525V526M749.5 524V525M750.5 524V525M751.5 524V525M752.5 520V524M753.5 517V520M754.5 515V517M755.5 514V515M756.5 514V515M757.5 513V514M758.5 513V514M759.5 514V515M760.5 514V515M761.5 515V516M762.5 516V517M763.5 517V519M764.5 519V520M765.5 520V521M766.5 520V521M767.5 520V521M768.5 519V520M769.5 519V520M770.5 519V521M771.5 520V521M772.5 519V520M773.5 517V519M774.5 515V517M775.5 513V514M776.5 514V515M777.5 514V515M778.5 515V516M779.5 516V517M780.5 517V518M781.5 517V518M782.5 516V517M783.5 516V517M784.5 515V516M785.5 515V516M786.5 513V515M787.5 509V513M788.5 506V508M789.5 508V510M790.5 510V513M791.5 513V515M792.5 515V516M793.5 516V518M794.5 518V519M795.5 517V519M796.5 516V517M797.5 515V516M798.5 514V515M799.5 512V514M800.5 512V513M801.5 513V515M802.5 515V516M803.5 516V517M804.5 516V517M805.5 516V517M806.5 516V517M807.5 516V517M808.5 517V518M809.5 518V519M810.5 516V518M811.5 514V516M812.5 512V513M813.5 513V515M814.5 515V518M815.5 518V520M816.5 520V523M817.5 521V522M818.5 520V521M819.5 519V520M820.5 518V519M821.5 517V518M822.5 516V517M823.5 515V516M824.5 513V515M825.5 511V513M826.5 509V511M827.5 508V509M828.5 507V508M829.5 506V507M830.5 505V506M831.5 505V506M832.5 504V505M833.5 504V505M834.5 503V504M835.5 502V503M836.5 501V502M837.5 501V502M838.5 501V502M839.5 501V502M840.5 501V502M841.5 499V500M842.5 500V502M843.5 502V503M844.5 502V503M845.5 500V501M846.5 501V504M847.5 505V506M848.5 503V505M849.5 501V502M850.5 502V504M851.5 504V505M852.5 505V507M853.5 508V509M854.5 507V508M855.5 507V508M856.5 508V511M857.5 511V514M858.5 512V513M859.5 511V512M860.5 511V512M861.5 511V512M862.5 509V511M863.5 506V509M864.5 504V506M865.5 502V504M866.5 501V502M867.5 501V502M868.5 502V504M869.5 504V507M870.5 505V506M871.5 503V505M872.5 502V503M873.5 501V502M874.5 499V501M875.5 498V499M876.5 496V497M877.5 497V498M878.5 497V499M879.5 497V499M880.5 497V498M881.5 498V499M882.5 499V500M883.5 500V501M884.5 501V502M885.5 502V504M886.5 504V505M887.5 505V506M888.5 506V508M889.5 506V508M890.5 506V507M891.5 507V508M892.5 508V509M893.5 509V510M894.5 510V511M895.5 511V512M896.5 512V513M897.5 513V514M898.5 513V514M899.5 514V515M900.5 516V517M901.5 515V516M902.5 514V515M903.5 513V514M904.5 513V514M905.5 512V513M906.5 511V512M907.5 511V512M908.5 511V512M909.5 512V513M910.5 513V514M911.5 511V513M912.5 509V511M913.5 508V509M914.5 507V508M915.5 506V507M916.5 505V506M917.5 505V506M918.5 505V508M919.5 508V512M920.5 513V515M921.5 509V513M922.5 505V509M923.5 503V505M924.5 501V503M925.5 501V503M926.5 503V504M927.5 503V504M928.5 503V504" fill="none" stroke="#1e90ff" stroke-width="1"/>
<g shape-rendering="crispEdges" fill="none" stroke-width="1"><path d="M6.5 376V394M14.5 283V293M16.5 283V293M28.5 229V248M40.5 203V219M44.5 193V207M46.5 200V240M50.5 218V229M52.5 217V228M62.5 200V212M64.5 200V209M66.5 195V213M68.5 204V234M70.5 230V291M72.5 285V299M74.5 291V296M78.5 282V298M80.5 294V326M82.5 306V347M84.5 327V335M90.5 314V350M100.5 298V314M102.5 303V326M108.5 256V300M122.5 252V265M124.5 253V288M126.5 262V287M130.5 256V280M132.5 264V280M134.5 266V280M136.5 269V290M138.5 276V294M142.5 268V311M144.5 312V331M146.5 325V333M150.5 314V329M156.5 310V327M162.5 297V316M166.5 289V319M168.5 302V323M182.5 262V274M184.5 260V278M186.5 274V292M190.5 241V337M192.5 330V351M196.5 337V356M204.5 271V285M206.5 270V284M208.5 271V295M210.5 287V307M212.5 293V328M216.5 284V307M218.5 288V303M220.5 264V297M222.5 253V281M224.5 261V286M230.5 289V306M232.5 291V299M234.5 286V306M236.5 281V305M240.5 286V303M242.5 303V315M244.5 303V318M246.5 303V318M250.5 287V340M252.5 312V328M254.5 308V316M260.5 282V299M262.5 277V294M264.5 290V300M266.5 294V308M268.5 300V316M270.5 292V320M278.5 243V253M280.5 244V254M282.5 234V261M290.5 215V235M292.5 214V240M294.5 230V246M296.5 240V274M300.5 269V288M302.5 277V287M304.5 275V285M306.5 274V291M312.5 259V271M322.5 197V225M324.5 206V229M326.5 211V230M328.5 208V224M330.5 214V234M332.5 212V228M334.5 218V263M340.5 237V250M342.5 235V253M344.5 248V284M362.5 149V165M364.5 147V165M366.5 154V173M374.5 98V104M378.5 87V108M380.5 91V127M382.5 124V159M384.5 146V158M392.5 157V199M394.5 183V213M396.5 189V207M398.5 196V207M402.5 182V213M404.5 197V223M412.5 156V190M414.5 181V208M416.5 177V210M418.5 182V223M420.5 184V208M424.5 188V200M426.5 169V198M438.5 142V182M440.5 136V172M442.5 142V185M444.5 168V185M452.5 137V161M470.5 64V82M472.5 72V91M478.5 60V101M480.5 71V103M482.5 94V116M484.5 87V115M488.5 82V116M490.5 111V148M492.5 122V135M498.5 122V132M500.5 106V172M502.5 170V199M504.5 180V207M522.5 119V141M524.5 116V157M526.5 131V153M528.5 142V160M532.5 142V168M534.5 152V170M536.5 154V182M542.5 135V156M548.5 119V146M550.5 136V173M552.5 148V169M558.5 141V172M560.5 150V173M570.5 149V177M580.5 115V141M582.5 127V142M584.5 132V160M586.5 127V167M588.5 168V201M590.5 193V203M592.5 190V204M594.5 199V236M596.5 228V248M610.5 167V209M618.5 168V195M620.5 155V198M622.5 186V210M624.5 195V216M628.5 204V226M630.5 222V245M632.5 230V260M646.5 191V251M648.5 239V258M650.5 250V259M652.5 246V259M656.5 232V268M658.5 253V276M662.5 256V267M664.5 257V270M666.5 260V278M670.5 266V298M672.5 268V287M674.5 273V287M692.5 211V253M696.5 232V248M698.5 241V249M700.5 241V250M702.5 242V274M706.5 248V282M708.5 258V278M714.5 254V280M718.5 246V337M720.5 323V339M722.5 330V342M724.5 333V349M726.5 330V354M732.5 269V297M738.5 274V295M740.5 279V325M742.5 308V351M744.5 335V368M756.5 298V313M760.5 297V316M762.5 304V317M764.5 307V350M766.5 311V346M768.5 308V351M776.5 305V325M778.5 304V334M782.5 324V334M790.5 270V321M792.5 314V343M794.5 323V337M802.5 289V318M804.5 310V318M806.5 311V326M808.5 310V332M814.5 294V335M816.5 309V354M838.5 212V242M840.5 217V240M850.5 197V233M852.5 222V235M854.5 226V232M856.5 223V257M858.5 237V251M860.5 224V246M868.5 178V200M878.5 112V132M882.5 96V119M884.5 99V123M886.5 102V132M888.5 124V145M892.5 135V161M894.5 134V167M896.5 140V168M898.5 148V180M900.5 153V184M908.5 142V184M910.5 135V179M912.5 139V172M916.5 124V148M920.5 126V156M926.5 84V128" stroke="#32cd32"/><path d="M4.5 379V397M8.5 371V389M10.5 298V391M12.5 291V309M18.5 286V303M20.5 271V293M22.5 244V287M24.5 234V253M26.5 229V256M30.5 219V246M32.5 207V239M34.5 201V218M36.5 201V212M38.5 205V227M42.5 192V213M48.5 216V235M54.5 213V228M56.5 210V225M58.5 198V220M60.5 194V212M76.5 283V302M86.5 326V333M88.5 316V327M92.5 335V357M94.5 297V358M96.5 297V313M98.5 295V344M104.5 282V323M106.5 245V305M110.5 269V285M112.5 233V271M114.5 239V272M116.5 267V286M118.5 256V285M120.5 251V274M128.5 257V278M140.5 266V311M148.5 316V332M152.5 313V336M154.5 318V345M158.5 318V341M160.5 295V323M164.5 298V329M170.5 310V319M172.5 301V316M174.5 277V310M176.5 266V296M178.5 249V290M180.5 252V272M188.5 259V291M194.5 338V343M198.5 313V349M200.5 289V317M202.5 258V303M214.5 272V341M226.5 266V312M228.5 290V312M238.5 278V312M248.5 295V318M256.5 300V313M258.5 285V306M272.5 291V316M274.5 250V302M276.5 242V265M284.5 226V260M286.5 201V237M288.5 213V234M298.5 247V280M308.5 260V299M310.5 261V284M314.5 257V265M316.5 252V264M318.5 222V260M320.5 194V240M336.5 238V263M338.5 237V251M346.5 242V282M348.5 234V250M350.5 238V250M352.5 238V248M354.5 212V243M356.5 181V233M358.5 158V185M360.5 159V173M368.5 142V158M370.5 104V158M372.5 97V120M376.5 87V104M386.5 147V160M388.5 147V168M390.5 143V167M400.5 187V203M406.5 202V224M408.5 156V224M410.5 166V188M422.5 189V214M428.5 179V217M430.5 173V195M432.5 178V190M434.5 178V190M436.5 176V189M446.5 171V182M448.5 159V179M450.5 131V174M454.5 125V158M456.5 125V155M458.5 130V156M460.5 125V151M462.5 124V148M464.5 121V141M466.5 81V127M468.5 61V88M474.5 66V93M476.5 46V92M486.5 96V127M494.5 122V136M496.5 114V137M506.5 184V201M508.5 167V197M510.5 159V177M512.5 154V173M514.5 139V171M516.5 145V157M518.5 140V155M520.5 135V146M530.5 144V158M538.5 145V173M540.5 134V157M544.5 131V148M546.5 120V142M554.5 148V159M556.5 139V164M562.5 150V185M564.5 148V164M566.5 149V159M568.5 149V158M572.5 142V161M574.5 115V151M576.5 110V127M578.5 114V129M598.5 200V238M600.5 194V210M602.5 191V208M604.5 188V209M606.5 194V212M608.5 190V213M612.5 189V205M614.5 198V208M616.5 185V204M626.5 197V207M634.5 208V253M636.5 202V217M638.5 204V209M640.5 190V209M642.5 180V208M644.5 182V207M654.5 236V259M660.5 253V273M668.5 268V286M676.5 271V299M678.5 270V300M680.5 242V284M682.5 238V256M684.5 241V254M686.5 239V252M688.5 229V245M690.5 211V242M694.5 230V256M704.5 235V271M710.5 259V276M712.5 252V278M716.5 246V280M728.5 327V351M730.5 269V348M734.5 282V293M736.5 279V292M746.5 362V371M748.5 346V366M750.5 352V368M752.5 320V361M754.5 298V329M758.5 299V311M770.5 330V343M772.5 326V345M774.5 310V335M780.5 316V333M784.5 316V334M786.5 316V333M788.5 272V326M796.5 311V334M798.5 304V323M800.5 292V321M810.5 315V337M812.5 298V333M818.5 339V355M820.5 334V347M822.5 312V339M824.5 304V337M826.5 276V335M828.5 257V301M830.5 256V268M832.5 252V266M834.5 243V266M836.5 226V264M842.5 216V228M844.5 207V228M846.5 211V229M848.5 200V232M862.5 212V233M864.5 186V227M866.5 174V194M870.5 171V192M872.5 139V181M874.5 131V149M876.5 113V150M880.5 90V126M890.5 135V153M902.5 174V181M904.5 158V178M906.5 155V170M914.5 131V156M918.5 120V145M922.5 104V166M924.5 87V130M928.5 94V97" stroke="#ff0000"/></g>
<path shape-rendering="crispEdges" d="M8.5 404V405M9.5 401V404M10.5 399V401M11.5 396V399M12.5 394V396M13.5 391V394M14.5 389V391M15.5 386V389M16.5 383V386M17.5 380V383M18.5 376V380M19.5 373V376M20.5 369V373M21.5 366V369M22.5 362V366M23.5 359V362M24.5 355V359M25.5 351V355M26.5 346V351M27.5 342V346M28.5 337V342M29.5 333V337M30.5 329V333M31.5 324V329M32.5 319V324M33.5 314V319M34.5 309V314M35.5 304V309M36.5 299V304M37.5 295V299M38.5 291V295M39.5 287V291M40.5 282V287M41.5 277V282M42.5 272V277M43.5 267V272M44.5 262V267M45.5 258V262M46.5 254V258M47.5 250V254M48.5 246V250M49.5 243V246M50.5 241V243M51.5 238V241M52.5 236V238M53.5 234V236M54.5 232V234M55.5 230V232M56.5 228V230M57.5 226V228M58.5 224V226M59.5 223V224M60.5 221V223M61.5 220V221M62.5 219V220M63.5 218V219M64.5 217V218M65.5 216V217M66.5 216V217M67.5 214V215M68.5 215V216M69.5 215V216M70.5 216V217M71.5 217V219M72.5 219V221M73.5 221V223M74.5 223V225M75.5 225V227M76.5 227V229M77.5 229V232M78.5 232V234M79.5 234V237M80.5 237V239M81.5 239V242M82.5 242V244M83.5 244V248M84.5 248V250M85.5 250V254M86.5 254V256M87.5 256V260M88.5 260V262M89.5 262V265M90.5 265V267M91.5 267V270M92.5 270V272M93.5 272V275M94.5 275V277M95.5 277V279M96.5 279V281M97.5 281V283M98.5 283V285M99.5 285V287M100.5 287V289M101.5 289V291M102.5 291V293M103.5 293V295M104.5 295V297M105.5 297V299M106.5 299V300M107.5 300V302M108.5 302V303M109.5 302V304M110.5 304V305M111.5 304V305M112.5 304V305M113.5 303V304M114.5 302V303M115.5 302V303M116.5 301V302M117.5 300V301M118.5 300V301M119.5 299V300M120.5 298V299M121.5 297V298M122.5 296V297M123.5 295V296M124.5 294V295M125.5 292V294M126.5 291V292M127.5 290V291M128.5 289V290M129.5 287V289M130.5 286V287M131.5 285V286M132.5 284V285M133.5 283V284M134.5 282V283M135.5 281V282M136.5 280V281M137.5 279V280M138.5 279V280M139.5 278V279M140.5 278V279M141.5 278V279M142.5 278V279M143.5 278V279M144.5 278V279M145.5 278V280M146.5 280V281M147.5 280V282M148.5 282V283M149.5 282V284M150.5 284V285M151.5 285V286M152.5 286V287M153.5 287V288M154.5 288V290M155.5 290V291M156.5 291V292M157.5 292V293M158.5 293V294M159.5 294V295M160.5 295V296M161.5 296V297M162.5 297V298M163.5 298V299M164.5 299V300M165.5 300V302M166.5 302V303M167.5 303V304M168.5 304V305M169.5 305V306M170.5 306V307M171.5 307V308M172.5 308V309M173.5 308V309M174.5 309V310M175.5 310V311M176.5 309V310M177.5 309V310M178.5 308V309M179.5 308V309M180.5 307V308M181.5 306V307M182.5 305V307M183.5 304V305M184.5 303V305M185.5 302V303M186.5 302V303M187.5 301V302M188.5 300V301M189.5 300V301M190.5 300V301M191.5 300V301M192.5 300V301M193.5 300V301M194.5 301V302M195.5 301V302M196.5 301V302M197.5 302V303M198.5 302V303M199.5 302V303M200.5 302V303M201.5 302V303M202.5 301V302M203.5 300V301M204.5 300V301M205.5 299V300M206.5 298V299M207.5 297V298M208.5 296V297M209.5 296V297M210.5 296V297M211.5 295V296M212.5 295V296M213.5 295V296M214.5 294V295M215.5 294V295M216.5 294V295M217.5 294V295M218.5 294V295M219.5 294V295M220.5 294V295M221.5 295V296M222.5 295V296M223.5 295V296M224.5 295V296M225.5 295V296M226.5 296V297M227.5 296V297M228.5 295V296M229.5 295V296M230.5 295V296M231.5 294V295M232.5 294V295M233.5 293V294M234.5 293V294M235.5 292V293M236.5 291V292M237.5 291V292M238.5 290V291M239.5 289V290M240.5 289V290M241.5 290V291M242.5 290V291M243.5 291V292M244.5 291V292M245.5 292V293M246.5 292V293M247.5 293V294M248.5 293V294M249.5 294V295M250.5 294V295M251.5 295V296M252.5 295V296M253.5 295V296M254.5 296V297M255.5 296V297M256.5 296V297M257.5 296V297M258.5 296V297M259.5 297V298M260.5 297V298M261.5 297V298M262.5 298V299M263.5 298V299M264.5 299V300M265.5 299V300M266.5 299V300M267.5 300V301M268.5 300V301M269.5 301V302M270.5 302V303M271.5 301V302M272.5 301V302M273.5 301V302M274.5 300V301M275.5 299V300M276.5 298V299M277.5 297V298M278.5 295V297M279.5 294V295M280.5 292V294M281.5 290V292M282.5 289V290M283.5 287V289M284.5 285V287M285.5 283V285M286.5 281V283M287.5 279V281M288.5 277V279M289.5 275V277M290.5 273V275M291.5 272V273M292.5 270V272M293.5 269V270M294.5 268V269M295.5 267V268M296.5 266V267M297.5 265V266M298.5 264V265M299.5 264V265M300.5 264V265M301.5 264V265M302.5 263V264M303.5 263V264M304.5 263V264M305.5 263V264M306.5 262V263M307.5 262V263M308.5 262V263M309.5 261V262M310.5 260V261M311.5 259V260M312.5 258V259M313.5 257V258M314.5 256V257M315.5 256V257M316.5 255V256M317.5 254V255M318.5 253V254M319.5 253V254M320.5 252V253M321.5 251V252M322.5 251V252M323.5 250V251M324.5 250V251M325.5 249V250M326.5 249V250M327.5 248V249M328.5 249V250M329.5 249V250M330.5 249V250M331.5 249V250M332.5 249V250M333.5 249V250M334.5 248V249M335.5 248V249M336.5 248V249M337.5 248V249M338.5 247V248M339.5 247V248M340.5 247V248M341.5 246V247M342.5 246V247M343.5 246V247M344.5 246V247M345.5 245V246M346.5 245V246M347.5 244V245M348.5 244V245M349.5 243V244M350.5 243V244M351.5 242V243M352.5 241V242M353.5 240V241M354.5 239V240M355.5 238V239M356.5 237V238M357.5 234V237M358.5 232V234M359.5 229V232M360.5 227V229M361.5 225V227M362.5 223V225M363.5 221V223M364.5 219V221M365.5 217V219M366.5 215V217M367.5 212V215M368.5 210V212M369.5 208V210M370.5 205V208M371.5 203V205M372.5 201V203M373.5 198V201M374.5 196V198M375.5 193V196M376.5 190V193M377.5 188V190M378.5 185V188M379.5 182V185M380.5 180V182M381.5 177V180M382.5 174V177M383.5 172V174M384.5 170V172M385.5 167V170M386.5 165V167M387.5 163V165M388.5 161V163M389.5 159V161M390.5 158V159M391.5 156V158M392.5 155V156M393.5 154V155M394.5 153V154M395.5 152V153M396.5 152V153M397.5 151V152M398.5 151V152M399.5 152V153M400.5 152V153M401.5 152V153M402.5 153V154M403.5 154V155M404.5 155V156M405.5 156V157M406.5 157V158M407.5 158V159M408.5 159V160M409.5 160V161M410.5 161V162M411.5 162V164M412.5 164V165M413.5 165V166M414.5 166V168M415.5 168V170M416.5 170V172M417.5 172V174M418.5 174V176M419.5 176V177M420.5 177V179M421.5 179V181M422.5 181V182M423.5 182V184M424.5 184V185M425.5 185V186M426.5 186V187M427.5 186V187M428.5 187V188M429.5 188V189M430.5 188V189M431.5 188V189M432.5 188V189M433.5 188V189M434.5 188V189M435.5 187V188M436.5 186V187M437.5 186V187M438.5 185V186M439.5 184V185M440.5 183V184M441.5 183V184M442.5 182V183M443.5 181V182M444.5 180V181M445.5 180V181M446.5 179V180M447.5 178V179M448.5 177V178M449.5 177V178M450.5 176V177M451.5 175V176M452.5 174V175M453.5 174V175M454.5 173V174M455.5 172V173M456.5 171V172M457.5 171V172M458.5 170V171M459.5 169V170M460.5 167V169M461.5 166V167M462.5 165V166M463.5 163V165M464.5 162V163M465.5 160V162M466.5 157V160M467.5 155V157M468.5 153V155M469.5 150V153M470.5 148V150M471.5 145V148M472.5 142V145M473.5 140V142M474.5 137V140M475.5 134V137M476.5 132V134M477.5 129V132M478.5 127V129M479.5 125V127M480.5 123V125M481.5 121V123M482.5 119V121M483.5 117V119M484.5 116V117M485.5 115V116M486.5 114V115M487.5 113V114M488.5 112V113M489.5 111V112M490.5 110V111M491.5 109V110M492.5 109V110M493.5 108V109M494.5 108V109M495.5 107V108M496.5 107V108M497.5 106V107M498.5 106V107M499.5 107V108M500.5 108V109M501.5 109V110M502.5 110V112M503.5 112V114M504.5 114V115M505.5 115V117M506.5 117V119M507.5 119V120M508.5 120V122M509.5 122V124M510.5 124V125M511.5 125V127M512.5 127V129M513.5 129V130M514.5 130V132M515.5 132V133M516.5 133V134M517.5 134V136M518.5 136V137M519.5 137V138M520.5 138V139M521.5 139V141M522.5 141V142M523.5 142V143M524.5 143V144M525.5 144V145M526.5 145V146M527.5 146V147M528.5 147V148M529.5 148V149M530.5 149V150M531.5 150V151M532.5 151V152M533.5 151V152M534.5 152V153M535.5 153V154M536.5 154V155M537.5 155V156M538.5 156V157M539.5 157V158M540.5 157V158M541.5 157V158M542.5 156V157M543.5 155V156M544.5 154V155M545.5 153V154M546.5 152V153M547.5 151V152M548.5 150V151M549.5 149V150M550.5 149V150M551.5 148V149M552.5 148V149M553.5 147V148M554.5 147V148M555.5 147V148M556.5 147V148M557.5 147V148M558.5 148V149M559.5 148V149M560.5 148V149M561.5 148V149M562.5 149V150M563.5 149V150M564.5 149V150M565.5 150V151M566.5 150V151M567.5 150V151M568.5 150V151M569.5 150V151M570.5 150V151M571.5 150V151M572.5 151V152M573.5 150V151M574.5 150V151M575.5 149V150M576.5 148V149M577.5 148V149M578.5 147V148M579.5 146V147M580.5 146V147M581.5 145V146M582.5 145V146M583.5 145V146M584.5 145V146M585.5 146V147M586.5 147V148M587.5 148V149M588.5 149V150M589.5 150V151M590.5 151V153M591.5 153V154M592.5 154V156M593.5 156V157M594.5 157V159M595.5 159V160M596.5 160V162M597.5 162V163M598.5 163V164M599.5 164V166M600.5 166V167M601.5 166V168M602.5 168V169M603.5 168V170M604.5 170V171M605.5 170V172M606.5 172V173M607.5 173V174M608.5 174V175M609.5 175V177M610.5 177V178M611.5 178V179M612.5 179V180M613.5 180V182M614.5 182V183M615.5 183V184M616.5 184V185M617.5 185V187M618.5 187V188M619.5 188V190M620.5 190V192M621.5 192V193M622.5 193V194M623.5 194V196M624.5 196V197M625.5 196V198M626.5 198V199M627.5 199V200M628.5 200V201M629.5 201V202M630.5 202V203M631.5 203V204M632.5 204V205M633.5 205V206M634.5 205V206M635.5 206V207M636.5 206V207M637.5 206V207M638.5 205V206M639.5 205V206M640.5 205V206M641.5 205V206M642.5 205V206M643.5 204V205M644.5 204V205M645.5 204V206M646.5 206V207M647.5 206V208M648.5 208V209M649.5 209V210M650.5 210V212M651.5 212V213M652.5 213V215M653.5 215V216M654.5 216V218M655.5 218V219M656.5 219V221M657.5 221V222M658.5 222V224M659.5 224V225M660.5 225V227M661.5 227V229M662.5 229V230M663.5 230V232M664.5 232V234M665.5 234V235M666.5 235V237M667.5 237V238M668.5 238V240M669.5 240V241M670.5 241V242M671.5 242V244M672.5 244V246M673.5 246V247M674.5 247V249M675.5 249V250M676.5 250V252M677.5 252V253M678.5 253V254M679.5 254V256M680.5 256V257M681.5 257V258M682.5 258V259M683.5 259V260M684.5 260V261M685.5 261V262M686.5 262V263M687.5 262V263M688.5 262V263M689.5 262V263M690.5 262V263M691.5 261V262M692.5 261V262M693.5 260V261M694.5 260V261M695.5 259V260M696.5 259V260M697.5 258V259M698.5 258V259M699.5 258V259M700.5 258V259M701.5 258V259M702.5 258V259M703.5 257V258M704.5 257V258M705.5 257V258M706.5 256V257M707.5 256V257M708.5 256V257M709.5 256V257M710.5 255V256M711.5 255V256M712.5 255V256M713.5 254V255M714.5 254V255M715.5 254V255M716.5 254V255M717.5 254V255M718.5 255V256M719.5 256V257M720.5 257V258M721.5 258V260M722.5 260V262M723.5 262V265M724.5 265V267M725.5 267V269M726.5 269V271M727.5 271V273M728.5 273V274M729.5 274V276M730.5 276V278M731.5 278V279M732.5 279V280M733.5 280V282M734.5 282V283M735.5 283V285M736.5 285V286M737.5 286V288M738.5 288V290M739.5 290V292M740.5 292V294M741.5 294V296M742.5 296V298M743.5 298V300M744.5 300V302M745.5 302V304M746.5 304V306M747.5 306V308M748.5 308V309M749.5 309V311M750.5 311V313M751.5 313V314M752.5 314V316M753.5 316V317M754.5 317V318M755.5 318V319M756.5 319V320M757.5 320V321M758.5 320V321M759.5 320V321M760.5 321V322M761.5 321V322M762.5 321V322M763.5 321V322M764.5 321V322M765.5 321V322M766.5 321V322M767.5 321V322M768.5 321V322M769.5 321V322M770.5 322V323M771.5 322V323M772.5 323V324M773.5 323V324M774.5 324V325M775.5 324V325M776.5 325V326M777.5 326V327M778.5 326V327M779.5 326V327M780.5 326V327M781.5 326V327M782.5 325V326M783.5 325V326M784.5 324V325M785.5 324V325M786.5 323V324M787.5 322V323M788.5 322V323M789.5 321V322M790.5 321V322M791.5 320V321M792.5 320V321M793.5 320V321M794.5 320V321M795.5 320V321M796.5 320V321M797.5 320V321M798.5 320V321M799.5 320V321M800.5 320V321M801.5 320V321M802.5 320V321M803.5 320V321M804.5 320V321M805.5 320V321M806.5 320V321M807.5 320V321M808.5 319V320M809.5 319V320M810.5 319V320M811.5 318V319M812.5 318V319M813.5 317V318M814.5 317V318M815.5 317V318M816.5 318V319M817.5 318V319M818.5 319V320M819.5 320V321M820.5 320V321M821.5 320V321M822.5 320V321M823.5 320V321M824.5 320V321M825.5 319V320M826.5 319V320M827.5 318V319M828.5 317V318M829.5 316V317M830.5 315V316M831.5 313V315M832.5 311V313M833.5 309V311M834.5 307V309M835.5 305V307M836.5 303V305M837.5 301V303M838.5 299V301M839.5 297V299M840.5 294V297M841.5 292V294M842.5 289V292M843.5 287V289M844.5 285V287M845.5 283V285M846.5 281V283M847.5 279V281M848.5 277V279M849.5 275V277M850.5 272V275M851.5 270V272M852.5 268V270M853.5 266V268M854.5 264V266M855.5 262V264M856.5 260V262M857.5 258V260M858.5 256V258M859.5 254V256M860.5 252V254M861.5 250V252M862.5 247V250M863.5 244V247M864.5 242V244M865.5 239V242M866.5 236V239M867.5 234V236M868.5 231V234M869.5 228V231M870.5 225V228M871.5 223V225M872.5 219V223M873.5 217V219M874.5 213V217M875.5 211V213M876.5 207V211M877.5 205V207M878.5 201V205M879.5 199V201M880.5 195V199M881.5 193V195M882.5 189V193M883.5 187V189M884.5 184V187M885.5 182V184M886.5 179V182M887.5 177V179M888.5 175V177M889.5 173V175M890.5 172V173M891.5 170V172M892.5 169V170M893.5 167V169M894.5 165V167M895.5 163V165M896.5 162V163M897.5 160V162M898.5 159V160M899.5 157V159M900.5 155V157M901.5 154V155M902.5 153V154M903.5 152V153M904.5 151V152M905.5 150V151M906.5 149V150M907.5 148V149M908.5 148V149M909.5 147V148M910.5 146V147M911.5 146V147M912.5 145V146M913.5 145V146M914.5 145V146M915.5 145V146M916.5 145V146M917.5 146V147M918.5 146V147M919.5 146V147M920.5 147V148M921.5 147V148M922.5 148V149M923.5 148V149M924.5 148V149M925.5 147V148M926.5 146V147M927.5 145V147M928.5 144V145" fill="none" stroke="#0000cd" stroke-width="1"/>
<path shape-rendering="crispEdges" d="M4.5 403V405M5.5 399V403M6.5 396V399M7.5 392V396M8.5 388V392M9.5 384V388M10.5 381V384M11.5 377V381M12.5 373V377M13.5 370V373M14.5 367V370M15.5 364V367M16.5 360V364M17.5 357V360M18.5 354V357M19.5 351V354M20.5 347V351M21.5 342V347M22.5 338V342M23.5 333V338M24.5 328V333M25.5 322V328M26.5 316V322M27.5 310V316M28.5 304V310M29.5 298V304M30.5 292V298M31.5 286V292M32.5 280V286M33.5 274V280M34.5 268V274M35.5 263V268M36.5 259V263M37.5 255V259M38.5 250V255M39.5 246V250M40.5 243V246M41.5 239V243M42.5 237V239M43.5 233V237M44.5 231V233M45.5 227V231M46.5 225V227M47.5 223V225M48.5 222V223M49.5 220V222M50.5 218V220M51.5 216V218M52.5 215V216M53.5 214V215M54.5 213V214M55.5 213V214M56.5 212V213M57.5 211V212M58.5 210V211M59.5 210V211M60.5 210V211M61.5 210V211M62.5 210V211M63.5 210V211M64.5 210V211M65.5 210V211M66.5 210V211M67.5 211V212M68.5 211V212M69.5 212V214M70.5 214V216M71.5 216V218M72.5 218V221M73.5 221V223M74.5 223V226M75.5 226V228M76.5 228V231M77.5 231V233M78.5 233V236M79.5 236V239M80.5 239V243M81.5 243V247M82.5 247V251M83.5 251V255M84.5 255V259M85.5 259V263M86.5 263V268M87.5 268V272M88.5 272V277M89.5 277V281M90.5 281V286M91.5 286V290M92.5 290V293M93.5 293V296M94.5 296V300M95.5 300V303M96.5 303V305M97.5 305V307M98.5 307V309M99.5 309V311M100.5 311V312M101.5 312V313M102.5 313V314M103.5 314V315M104.5 315V316M105.5 314V315M106.5 313V315M107.5 312V313M108.5 311V312M109.5 309V311M110.5 307V309M111.5 305V307M112.5 303V305M113.5 301V303M114.5 299V301M115.5 297V299M116.5 295V297M117.5 292V295M118.5 290V292M119.5 288V290M120.5 286V288M121.5 284V286M122.5 282V284M123.5 280V282M124.5 278V280M125.5 277V278M126.5 275V277M127.5 274V275M128.5 273V274M129.5 272V273M130.5 271V272M131.5 270V271M132.5 270V271M133.5 268V269M134.5 269V270M135.5 269V270M136.5 269V270M137.5 270V271M138.5 270V271M139.5 271V272M140.5 272V273M141.5 273V274M142.5 274V275M143.5 275V276M144.5 276V278M145.5 278V280M146.5 280V281M147.5 281V283M148.5 283V285M149.5 285V287M150.5 287V288M151.5 288V290M152.5 290V292M153.5 292V294M154.5 294V296M155.5 296V298M156.5 298V300M157.5 300V302M158.5 302V304M159.5 304V306M160.5 306V307M161.5 307V309M162.5 309V310M163.5 310V311M164.5 311V313M165.5 313V314M166.5 314V315M167.5 315V316M168.5 316V317M169.5 317V319M170.5 317V319M171.5 316V317M172.5 315V317M173.5 314V315M174.5 313V314M175.5 311V313M176.5 309V311M177.5 307V309M178.5 305V307M179.5 303V305M180.5 301V303M181.5 299V301M182.5 297V299M183.5 295V297M184.5 293V295M185.5 292V293M186.5 291V292M187.5 291V292M188.5 289V291M189.5 289V290M190.5 290V291M191.5 290V292M192.5 292V293M193.5 292V293M194.5 293V294M195.5 294V295M196.5 295V296M197.5 296V297M198.5 298V299M199.5 297V298M200.5 297V298M201.5 297V298M202.5 297V298M203.5 297V298M204.5 296V297M205.5 297V298M206.5 297V298M207.5 297V298M208.5 298V299M209.5 298V300M210.5 300V302M211.5 302V304M212.5 304V305M213.5 304V305M214.5 305V306M215.5 305V306M216.5 304V305M217.5 303V304M218.5 301V303M219.5 299V301M220.5 297V299M221.5 295V297M222.5 293V295M223.5 292V293M224.5 290V292M225.5 289V290M226.5 288V289M227.5 287V288M228.5 286V287M229.5 286V287M230.5 286V287M231.5 287V288M232.5 288V289M233.5 288V289M234.5 289V290M235.5 289V290M236.5 288V289M237.5 288V289M238.5 288V289M239.5 288V289M240.5 288V289M241.5 289V290M242.5 290V291M243.5 290V291M244.5 291V292M245.5 292V293M246.5 293V294M247.5 294V295M248.5 294V295M249.5 295V296M250.5 296V297M251.5 297V298M252.5 298V299M253.5 298V300M254.5 300V301M255.5 300V301M256.5 301V302M257.5 301V302M258.5 301V302M259.5 301V302M260.5 301V302M261.5 301V302M262.5 302V303M263.5 302V303M264.5 302V303M265.5 302V303M266.5 302V303M267.5 302V303M268.5 302V303M269.5 302V303M270.5 302V303M271.5 302V303M272.5 302V303M273.5 301V302M274.5 300V301M275.5 297V300M276.5 295V297M277.5 291V295M278.5 289V291M279.5 286V289M280.5 284V286M281.5 282V284M282.5 280V282M283.5 278V280M284.5 276V278M285.5 273V276M286.5 271V273M287.5 269V271M288.5 266V269M289.5 264V266M290.5 262V264M291.5 259V262M292.5 257V259M293.5 255V257M294.5 253V255M295.5 251V253M296.5 249V251M297.5 248V249M298.5 247V248M299.5 246V247M300.5 245V246M301.5 245V246M302.5 245V246M303.5 245V246M304.5 246V248M305.5 248V249M306.5 249V250M307.5 250V252M308.5 252V253M309.5 253V254M310.5 254V256M311.5 256V257M312.5 257V258M313.5 258V260M314.5 260V261M315.5 261V262M316.5 262V263M317.5 263V264M318.5 264V265M319.5 264V265M320.5 262V264M321.5 259V262M322.5 257V259M323.5 254V257M324.5 252V254M325.5 250V252M326.5 249V250M327.5 248V249M328.5 246V248M329.5 245V246M330.5 243V245M331.5 242V243M332.5 241V242M333.5 239V241M334.5 238V239M335.5 236V238M336.5 235V236M337.5 234V235M338.5 233V234M339.5 232V233M340.5 232V233M341.5 232V233M342.5 232V233M343.5 232V233M344.5 233V234M345.5 234V235M346.5 235V236M347.5 236V237M348.5 237V239M349.5 239V240M350.5 240V241M351.5 241V243M352.5 242V243M353.5 241V242M354.5 239V241M355.5 236V239M356.5 232V236M357.5 229V232M358.5 226V229M359.5 223V226M360.5 220V223M361.5 217V220M362.5 214V217M363.5 211V214M364.5 208V211M365.5 205V208M366.5 202V205M367.5 198V202M368.5 195V198M369.5 192V195M370.5 188V192M371.5 184V188M372.5 180V184M373.5 176V180M374.5 171V176M375.5 167V171M376.5 163V167M377.5 159V163M378.5 155V159M379.5 151V155M380.5 148V151M381.5 146V148M382.5 143V146M383.5 141V143M384.5 139V141M385.5 138V139M386.5 137V138M387.5 136V137M388.5 135V136M389.5 134V135M390.5 134V135M391.5 135V136M392.5 136V137M393.5 137V138M394.5 138V139M395.5 139V141M396.5 141V143M397.5 143V144M398.5 144V147M399.5 147V150M400.5 150V153M401.5 153V157M402.5 157V160M403.5 160V164M404.5 164V167M405.5 167V171M406.5 171V175M407.5 175V178M408.5 178V180M409.5 180V182M410.5 182V184M411.5 184V185M412.5 185V187M413.5 187V188M414.5 188V189M415.5 189V190M416.5 190V191M417.5 190V191M418.5 190V191M419.5 191V192M420.5 191V192M421.5 191V192M422.5 192V193M423.5 191V192M424.5 191V192M425.5 190V191M426.5 190V191M427.5 189V190M428.5 189V190M429.5 188V189M430.5 187V188M431.5 187V188M432.5 186V187M433.5 185V186M434.5 184V185M435.5 184V185M436.5 183V184M437.5 182V183M438.5 181V182M439.5 181V182M440.5 180V181M441.5 179V180M442.5 178V179M443.5 177V178M444.5 176V177M445.5 175V176M446.5 174V175M447.5 173V174M448.5 171V173M449.5 170V171M450.5 169V170M451.5 168V169M452.5 166V168M453.5 165V166M454.5 163V165M455.5 162V163M456.5 160V162M457.5 159V160M458.5 157V159M459.5 155V157M460.5 154V155M461.5 152V154M462.5 151V152M463.5 149V151M464.5 146V149M465.5 143V146M466.5 140V143M467.5 137V140M468.5 134V137M469.5 130V134M470.5 127V130M471.5 124V127M472.5 120V124M473.5 117V120M474.5 115V117M475.5 112V115M476.5 110V112M477.5 108V110M478.5 106V108M479.5 105V106M480.5 103V105M481.5 102V103M482.5 101V102M483.5 100V101M484.5 99V100M485.5 98V99M486.5 97V98M487.5 96V97M488.5 96V97M489.5 96V97M490.5 95V96M491.5 95V96M492.5 95V96M493.5 95V96M494.5 96V97M495.5 97V99M496.5 99V101M497.5 101V103M498.5 103V105M499.5 105V107M500.5 107V111M501.5 111V114M502.5 114V117M503.5 117V121M504.5 121V124M505.5 124V127M506.5 127V130M507.5 130V133M508.5 133V136M509.5 136V139M510.5 139V142M511.5 142V145M512.5 145V147M513.5 147V149M514.5 149V150M515.5 150V152M516.5 152V153M517.5 153V154M518.5 154V155M519.5 154V155M520.5 155V156M521.5 155V156M522.5 156V157M523.5 156V157M524.5 156V157M525.5 156V157M526.5 156V157M527.5 157V158M528.5 156V157M529.5 156V157M530.5 155V156M531.5 155V156M532.5 154V155M533.5 153V154M534.5 152V153M535.5 151V152M536.5 150V151M537.5 149V150M538.5 148V149M539.5 148V149M540.5 148V149M541.5 147V148M542.5 147V148M543.5 147V148M544.5 146V147M545.5 146V147M546.5 145V146M547.5 145V146M548.5 145V146M549.5 146V147M550.5 148V149M551.5 147V148M552.5 147V148M553.5 147V148M554.5 147V148M555.5 146V147M556.5 146V147M557.5 146V147M558.5 147V148M559.5 147V148M560.5 147V148M561.5 148V149M562.5 148V149M563.5 149V150M564.5 149V150M565.5 149V150M566.5 150V151M567.5 150V151M568.5 150V151M569.5 151V152M570.5 151V152M571.5 151V152M572.5 151V152M573.5 150V151M574.5 150V151M575.5 149V150M576.5 148V149M577.5 147V148M578.5 146V147M579.5 146V147M580.5 146V147M581.5 145V146M582.5 145V146M583.5 145V146M584.5 145V146M585.5 146V147M586.5 146V147M587.5 147V148M588.5 148V149M589.5 149V150M590.5 150V151M591.5 151V153M592.5 153V156M593.5 156V159M594.5 159V162M595.5 162V164M596.5 164V167M597.5 167V169M598.5 169V171M599.5 171V174M600.5 174V176M601.5 176V178M602.5 178V181M603.5 181V183M604.5 183V186M605.5 186V189M606.5 189V192M607.5 192V194M608.5 194V196M609.5 196V198M610.5 198V200M611.5 200V201M612.5 201V202M613.5 202V203M614.5 202V203M615.5 203V204M616.5 203V204M617.5 203V204M618.5 202V203M619.5 202V203M620.5 201V202M621.5 201V202M622.5 200V201M623.5 199V200M624.5 198V200M625.5 198V199M626.5 199V200M627.5 199V200M628.5 200V201M629.5 201V202M630.5 202V203M631.5 202V204M632.5 204V205M633.5 204V205M634.5 205V206M635.5 206V207M636.5 206V207M637.5 206V207M638.5 206V207M639.5 207V208M640.5 207V208M641.5 207V208M642.5 206V207M643.5 206V207M644.5 206V207M645.5 206V208M646.5 208V210M647.5 210V211M648.5 211V213M649.5 213V215M650.5 215V217M651.5 217V219M652.5 219V221M653.5 221V223M654.5 223V224M655.5 224V226M656.5 226V227M657.5 227V229M658.5 229V230M659.5 230V232M660.5 232V233M661.5 233V235M662.5 235V236M663.5 236V238M664.5 238V240M665.5 240V242M666.5 242V245M667.5 245V247M668.5 247V250M669.5 250V252M670.5 252V255M671.5 255V258M672.5 258V260M673.5 260V262M674.5 262V264M675.5 264V265M676.5 265V267M677.5 267V268M678.5 268V269M679.5 269V270M680.5 270V272M681.5 271V272M682.5 270V271M683.5 270V271M684.5 270V271M685.5 270V271M686.5 269V270M687.5 268V269M688.5 267V268M689.5 266V267M690.5 265V266M691.5 263V265M692.5 262V263M693.5 261V262M694.5 259V261M695.5 258V259M696.5 257V258M697.5 255V257M698.5 254V255M699.5 253V254M700.5 251V253M701.5 250V251M702.5 249V250M703.5 248V249M704.5 247V248M705.5 247V248M706.5 246V247M707.5 245V246M708.5 246V247M709.5 246V247M710.5 246V247M711.5 246V247M712.5 247V248M713.5 247V248M714.5 248V249M715.5 249V250M716.5 250V252M717.5 252V254M718.5 254V257M719.5 257V260M720.5 260V263M721.5 263V268M722.5 268V272M723.5 272V276M724.5 276V279M725.5 279V283M726.5 283V286M727.5 286V289M728.5 289V291M729.5 291V293M730.5 293V295M731.5 295V296M732.5 296V297M733.5 297V298M734.5 298V299M735.5 299V300M736.5 300V301M737.5 301V303M738.5 303V305M739.5 305V307M740.5 307V309M741.5 309V311M742.5 311V314M743.5 314V316M744.5 316V317M745.5 317V319M746.5 319V320M747.5 320V321M748.5 321V322M749.5 322V323M750.5 323V324M751.5 324V325M752.5 324V326M753.5 325V326M754.5 324V325M755.5 324V325M756.5 323V324M757.5 322V323M758.5 322V323M759.5 322V323M760.5 322V323M761.5 322V323M762.5 322V323M763.5 322V323M764.5 323V324M765.5 323V324M766.5 323V324M767.5 324V326M768.5 326V328M769.5 328V329M770.5 329V331M771.5 331V332M772.5 331V332M773.5 331V332M774.5 331V332M775.5 331V332M776.5 331V332M777.5 330V331M778.5 329V330M779.5 329V330M780.5 328V329M781.5 327V328M782.5 327V328M783.5 326V327M784.5 325V326M785.5 325V326M786.5 324V325M787.5 324V325M788.5 324V325M789.5 324V325M790.5 323V324M791.5 323V324M792.5 322V323M793.5 322V323M794.5 322V323M795.5 321V322M796.5 320V321M797.5 320V321M798.5 319V320M799.5 318V319M800.5 318V319M801.5 317V318M802.5 317V318M803.5 317V318M804.5 317V318M805.5 317V318M806.5 317V318M807.5 317V318M808.5 317V318M809.5 316V317M810.5 316V317M811.5 316V317M812.5 316V317M813.5 316V317M814.5 316V317M815.5 317V318M816.5 318V319M817.5 319V320M818.5 319V320M819.5 320V321M820.5 321V322M821.5 321V322M822.5 322V323M823.5 322V323M824.5 321V322M825.5 321V322M826.5 321V322M827.5 319V321M828.5 317V319M829.5 316V317M830.5 314V316M831.5 311V314M832.5 309V311M833.5 306V309M834.5 303V306M835.5 300V303M836.5 297V300M837.5 293V297M838.5 289V293M839.5 285V289M840.5 281V285M841.5 277V281M842.5 273V277M843.5 268V273M844.5 264V268M845.5 260V264M846.5 256V260M847.5 253V256M848.5 250V253M849.5 247V250M850.5 244V247M851.5 241V244M852.5 239V241M853.5 237V239M854.5 236V237M855.5 235V237M856.5 234V235M857.5 233V235M858.5 232V233M859.5 231V233M860.5 230V231M861.5 229V231M862.5 228V229M863.5 227V228M864.5 225V227M865.5 224V225M866.5 222V224M867.5 220V222M868.5 218V220M869.5 216V218M870.5 214V216M871.5 211V214M872.5 208V211M873.5 206V208M874.5 203V206M875.5 200V203M876.5 196V200M877.5 193V196M878.5 190V193M879.5 186V190M880.5 182V186M881.5 178V182M882.5 174V178M883.5 170V174M884.5 166V170M885.5 162V166M886.5 158V162M887.5 154V158M888.5 151V154M889.5 149V151M890.5 146V149M891.5 144V146M892.5 142V144M893.5 141V142M894.5 140V141M895.5 139V140M896.5 138V139M897.5 138V139M898.5 138V139M899.5 139V140M900.5 139V140M901.5 140V141M902.5 141V143M903.5 143V144M904.5 144V145M905.5 145V148M906.5 148V150M907.5 150V152M908.5 152V154M909.5 154V155M910.5 154V156M911.5 156V157M912.5 156V157M913.5 157V158M914.5 157V158M915.5 157V158M916.5 157V158M917.5 157V158M918.5 157V158M919.5 156V157M920.5 156V157M921.5 155V157M922.5 153V155M923.5 151V153M924.5 149V151M925.5 146V149M926.5 143V146M927.5 141V143M928.5 139V141M929.5 137V139" fill="none" stroke="#ff0000" stroke-width="1"/>
<text x="1172" y="43" font-size="10.6" stroke="#000" stroke-width="0.3" textLength="33" lengthAdjust="spacingAndGlyphs">0.93735</text>
<text x="1172" y="76" font-size="10.6" stroke="#000" stroke-width="0.3" textLength="33" lengthAdjust="spacingAndGlyphs">0.93450</text>
<text x="1172" y="109" font-size="10.6" stroke="#000" stroke-width="0.3" textLength="33" lengthAdjust="spacingAndGlyphs">0.93165</text>
<text x="1172" y="142" font-size="10.6" stroke="#000" stroke-width="0.3" textLength="33" lengthAdjust="spacingAndGlyphs">0.92880</text>
<text x="1172" y="175" font-size="10.6" stroke="#000" stroke-width="0.3" textLength="33" lengthAdjust="spacingAndGlyphs">0.92595</text>
<text x="1172" y="208" font-size="10.6" stroke="#000" stroke-width="0.3" textLength="33" lengthAdjust="spacingAndGlyphs">0.92305</text>
<text x="1172" y="241" font-size="10.6" stroke="#000" stroke-width="0.3" textLength="33" lengthAdjust="spacingAndGlyphs">0.92020</text>
<text x="1172" y="274" font-size="10.6" stroke="#000" stroke-width="0.3" textLength="33" lengthAdjust="spacingAndGlyphs">0.91735</text>
<text x="1172" y="307" font-size="10.6" stroke="#000" stroke-width="0.3" textLength="33" lengthAdjust="spacingAndGlyphs">0.91450</text>
<text x="1172" y="340" font-size="10.6" stroke="#000" stroke-width="0.3" textLength="33" lengthAdjust="spacingAndGlyphs">0.91160</text>
<text x="1172" y="373" font-size="10.6" stroke="#000" stroke-width="0.3" textLength="33" lengthAdjust="spacingAndGlyphs">0.90875</text>
<text x="1172" y="406" font-size="10.6" stroke="#000" stroke-width="0.3" textLength="33" lengthAdjust="spacingAndGlyphs">0.90590</text>
<g shape-rendering="crispEdges"><rect x="4" y="123" width="1164" height="2" fill="#ff0000"/>
<rect x="3" y="121" width="6" height="6" fill="#ff0000"/><rect x="5" y="123" width="2" height="2" fill="#fff"/>
<rect x="1160" y="121" width="6" height="6" fill="#ff0000"/><rect x="1162" y="123" width="2" height="2" fill="#fff"/>
<rect x="1168" y="118" width="41" height="11" fill="#ff0000"/></g>
<text x="1172" y="127" font-size="10.6" fill="#fff" stroke="#fff" stroke-width="0.3" textLength="33" lengthAdjust="spacingAndGlyphs">0.93001</text>
<g shape-rendering="crispEdges"><rect x="4" y="193" width="1164" height="2" fill="#ff0000"/>
<rect x="3" y="191" width="6" height="6" fill="#ff0000"/><rect x="5" y="193" width="2" height="2" fill="#fff"/>
<rect x="1160" y="191" width="6" height="6" fill="#ff0000"/><rect x="1162" y="193" width="2" height="2" fill="#fff"/>
<rect x="1168" y="188" width="41" height="11" fill="#ff0000"/></g>
<text x="1172" y="197" font-size="10.6" fill="#fff" stroke="#fff" stroke-width="0.3" textLength="33" lengthAdjust="spacingAndGlyphs">0.92394</text>
<g shape-rendering="crispEdges"><rect x="4" y="261" width="1164" height="2" fill="#00ff00"/>
<rect x="3" y="259" width="6" height="6" fill="#00ff00"/><rect x="5" y="261" width="2" height="2" fill="#fff"/>
<rect x="1160" y="259" width="6" height="6" fill="#00ff00"/><rect x="1162" y="261" width="2" height="2" fill="#fff"/>
<rect x="1168" y="256" width="41" height="11" fill="#00ff00"/></g>
<text x="1172" y="265" font-size="10.6" fill="#fff" stroke="#fff" stroke-width="0.3" textLength="33" lengthAdjust="spacingAndGlyphs">0.91802</text>
<g shape-rendering="crispEdges"><rect x="4" y="330" width="1164" height="2" fill="#0000ff"/>
<rect x="1168" y="325" width="41" height="11" fill="#0000ff"/></g>
<text x="1172" y="334" font-size="10.6" fill="#fff" stroke="#fff" stroke-width="0.3" textLength="33" lengthAdjust="spacingAndGlyphs">0.91206</text>
<rect shape-rendering="crispEdges" x="1168" y="90" width="41" height="11" fill="#000"/>
<text x="1172" y="99" font-size="10.6" fill="#fff" stroke="#fff" stroke-width="0.3" textLength="33" lengthAdjust="spacingAndGlyphs">0.93256</text>
<text x="1170" y="418" font-size="10.6" stroke="#000" stroke-width="0.3" textLength="37.7" lengthAdjust="spacingAndGlyphs">0.004323</text>
<text x="1170" y="455" font-size="10.6" stroke="#000" stroke-width="0.3" textLength="18" lengthAdjust="spacingAndGlyphs">0.00</text>
<text x="1170" y="473" font-size="10.6" stroke="#000" stroke-width="0.3" textLength="41" lengthAdjust="spacingAndGlyphs">-0.002445</text>
<text x="1170.5" y="489" font-size="10.6" stroke="#000" stroke-width="0.3" textLength="14" lengthAdjust="spacingAndGlyphs">100</text>
<text x="1169.5" y="504" font-size="10.6" stroke="#000" stroke-width="0.3" textLength="9.5" lengthAdjust="spacingAndGlyphs">70</text>
<text x="1169.5" y="532" font-size="10.6" stroke="#000" stroke-width="0.3" textLength="9.5" lengthAdjust="spacingAndGlyphs">30</text>
<text x="1170" y="547.5" font-size="10.6" stroke="#000" stroke-width="0.3" textLength="5" lengthAdjust="spacingAndGlyphs">0</text>
<path d="M7 38.5L10.5 34L14 38.5Z" fill="#000"/>
<text x="19.5" y="39" font-size="10.6" stroke="#000" stroke-width="0.3" textLength="204.5" lengthAdjust="spacingAndGlyphs" xml:space="preserve">USDCHF-,H4  0.93255 0.93261 0.93255 0.93256</text>
<text x="8" y="420" font-size="10.6" stroke="#000" stroke-width="0.3" textLength="148" lengthAdjust="spacingAndGlyphs">MACD(12,26,9) 0.001782 0.001256</text>
<text x="8" y="491" font-size="10.6" stroke="#000" stroke-width="0.3" textLength="67.5" lengthAdjust="spacingAndGlyphs">RSI(14) 66.3185</text>
<text x="3.5" y="563" font-size="10.6" stroke="#000" stroke-width="0.3" textLength="47.1" lengthAdjust="spacingAndGlyphs">6 Aug 2021</text>
<text x="67.5" y="563" font-size="10.6" stroke="#000" stroke-width="0.3" textLength="55.5" lengthAdjust="spacingAndGlyphs">13 Aug 08:00</text>
<text x="131.5" y="563" font-size="10.6" stroke="#000" stroke-width="0.3" textLength="55.5" lengthAdjust="spacingAndGlyphs">20 Aug 16:00</text>
<text x="195.5" y="563" font-size="10.6" stroke="#000" stroke-width="0.3" textLength="55.5" lengthAdjust="spacingAndGlyphs">30 Aug 00:00</text>
<text x="259.5" y="563" font-size="10.6" stroke="#000" stroke-width="0.3" textLength="49.7" lengthAdjust="spacingAndGlyphs">6 Sep 08:00</text>
<text x="323.5" y="563" font-size="10.6" stroke="#000" stroke-width="0.3" textLength="54.8" lengthAdjust="spacingAndGlyphs">13 Sep 16:00</text>
<text x="387.5" y="563" font-size="10.6" stroke="#000" stroke-width="0.3" textLength="54.8" lengthAdjust="spacingAndGlyphs">21 Sep 00:00</text>
<text x="451.5" y="563" font-size="10.6" stroke="#000" stroke-width="0.3" textLength="54.8" lengthAdjust="spacingAndGlyphs">28 Sep 08:00</text>
<text x="515.5" y="563" font-size="10.6" stroke="#000" stroke-width="0.3" textLength="48.5" lengthAdjust="spacingAndGlyphs">5 Oct 16:00</text>
<text x="579.5" y="563" font-size="10.6" stroke="#000" stroke-width="0.3" textLength="53.6" lengthAdjust="spacingAndGlyphs">13 Oct 00:00</text>
<text x="643.5" y="563" font-size="10.6" stroke="#000" stroke-width="0.3" textLength="53.6" lengthAdjust="spacingAndGlyphs">20 Oct 08:00</text>
<text x="707.5" y="563" font-size="10.6" stroke="#000" stroke-width="0.3" textLength="53.6" lengthAdjust="spacingAndGlyphs">27 Oct 16:00</text>
<text x="771.5" y="563" font-size="10.6" stroke="#000" stroke-width="0.3" textLength="50.4" lengthAdjust="spacingAndGlyphs">4 Nov 00:00</text>
<text x="835.5" y="563" font-size="10.6" stroke="#000" stroke-width="0.3" textLength="55.5" lengthAdjust="spacingAndGlyphs">11 Nov 08:00</text>
<text x="899.5" y="563" font-size="10.6" stroke="#000" stroke-width="0.3" textLength="55.5" lengthAdjust="spacingAndGlyphs">18 Nov 16:00</text>
</svg>
<svg width="230" height="62" viewBox="0 45 230 62" style="position:absolute;left:0;top:45px" font-family="Liberation Sans, sans-serif">
<defs><linearGradient id="rg" x1="0" y1="47" x2="0" y2="104" gradientUnits="userSpaceOnUse"><stop offset="0" stop-color="#fa5252"/><stop offset="0.42" stop-color="#d92a2a"/><stop offset="1" stop-color="#ae0000"/></linearGradient>
<linearGradient id="bg" x1="0" y1="0" x2="0" y2="1"><stop offset="0" stop-color="#efefef"/><stop offset="0.5" stop-color="#e0e0e0"/><stop offset="0.5" stop-color="#d0d0d0"/><stop offset="1" stop-color="#d8d8d8"/></linearGradient></defs>
<g shape-rendering="crispEdges">
<path d="M7 47H58V71H116V104H7Z" fill="url(#rg)"/>
<path d="M174 47H226V104H118V71H174Z" fill="url(#rg)"/>
<path d="M7.5 47.5H57.5M174.5 47.5H225.5" stroke="#c82020" fill="none"/>
<rect x="11" y="70" width="44" height="1" fill="#8c0000"/><rect x="11" y="71" width="44" height="1" fill="#e85050"/>
<rect x="178" y="70" width="44" height="1" fill="#8c0000"/><rect x="178" y="71" width="44" height="1" fill="#e85050"/>
<rect x="61.500" y="47.500" width="110" height="21" fill="#fff" stroke="#b4b4bc"/>
<rect x="62.500" y="48.500" width="19" height="19" fill="url(#bg)" stroke="#c4c4c8"/>
<rect x="151.500" y="48.500" width="19" height="19" fill="url(#bg)" stroke="#c4c4c8"/>
</g>
<path d="M69.500 56.500H74.500L72 59.300Z M138.500 0" fill="#4a62c0"/>
<path d="M158.500 59.300H163.500L161 56.500Z" fill="#4a62c0"/>
<text x="19.200" y="63" font-size="11.300" fill="#ffe8e8" textLength="25.700" lengthAdjust="spacingAndGlyphs">SELL</text>
<text x="187.500" y="63" font-size="11.300" fill="#ffe8e8" textLength="22.800" lengthAdjust="spacingAndGlyphs">BUY</text>
<text x="123.400" y="62" font-size="11.500" fill="#000" textLength="23" lengthAdjust="spacingAndGlyphs">0.01</text>
<text x="27" y="98.500" font-size="11.500" font-weight="bold" fill="#fff" textLength="23.700" lengthAdjust="spacingAndGlyphs">0.93</text>
<text x="137" y="98.500" font-size="11.500" font-weight="bold" fill="#fff" textLength="23.700" lengthAdjust="spacingAndGlyphs">0.93</text>
<text x="55.3" y="99.2" font-size="34.5" fill="#fff" stroke="url(#rg)" stroke-width="0.65" textLength="32.500" lengthAdjust="spacingAndGlyphs">25</text>
<text x="165.900" y="99.2" font-size="34.5" fill="#fff" stroke="url(#rg)" stroke-width="0.65" textLength="33" lengthAdjust="spacingAndGlyphs">27</text>
<text x="94" y="83" font-size="10.500" font-weight="bold" fill="#fff" textLength="6.500" lengthAdjust="spacingAndGlyphs">6</text>
<text x="205" y="83" font-size="10.500" font-weight="bold" fill="#fff" textLength="6.500" lengthAdjust="spacingAndGlyphs">9</text>
</svg>
<svg width="1212" height="29" viewBox="0 571 1212 29" style="position:absolute;left:0;top:571px" font-family="Liberation Sans, sans-serif">
<g shape-rendering="crispEdges">
<rect x="0" y="571" width="1212" height="1" fill="#e8e8e8"/>
<rect x="0" y="574" width="1212" height="19" fill="#f0f0f0"/>
<rect x="0" y="573" width="1212" height="1" fill="#000"/>
<rect x="0" y="593" width="1212" height="4" fill="#fcfcfc"/>
<rect x="0" y="597" width="1211" height="1" fill="#a0a0a0"/>
<rect x="0" y="598" width="1212" height="2" fill="#f8f8f8"/>
<rect x="1210" y="597" width="1" height="3" fill="#a0a0a0"/>
<rect x="2" y="597" width="1" height="3" fill="#a0a0a0"/>
<rect x="110" y="598" width="1" height="2" fill="#e2e2e2"/>
<rect x="195" y="598" width="1" height="2" fill="#e2e2e2"/>
<rect x="303" y="598" width="1" height="2" fill="#e2e2e2"/>
<rect x="422" y="598" width="1" height="2" fill="#e2e2e2"/>
<rect x="542" y="598" width="1" height="2" fill="#e2e2e2"/>
<rect x="662" y="598" width="1" height="2" fill="#e2e2e2"/>
<rect x="782" y="598" width="1" height="2" fill="#e2e2e2"/>
<rect x="903" y="598" width="1" height="2" fill="#e2e2e2"/>
<rect x="1023" y="598" width="1" height="2" fill="#e2e2e2"/>
<rect x="322" y="573" width="95" height="19" fill="#fff"/>
<path d="M321.5 573V591.5H416.5V573" fill="none" stroke="#000" stroke-width="1"/>
<rect x="0" y="574" width="1" height="18" fill="#606060"/>
<rect x="105" y="576" width="1" height="13" fill="#606060"/>
<rect x="213" y="576" width="1" height="13" fill="#606060"/>
<rect x="525" y="576" width="1" height="13" fill="#606060"/>
<rect x="637" y="576" width="1" height="13" fill="#606060"/>
<rect x="745" y="576" width="1" height="13" fill="#606060"/>
<rect x="837" y="576" width="1" height="13" fill="#606060"/>
<rect x="938" y="576" width="1" height="13" fill="#606060"/>
<rect x="1034" y="576" width="1" height="13" fill="#606060"/>
</g>
<text x="16" y="588" font-size="12.2" fill="#787884" textLength="78.3" lengthAdjust="spacingAndGlyphs">USDX,Weekly</text>
<text x="116" y="588" font-size="12.2" fill="#787884" textLength="85" lengthAdjust="spacingAndGlyphs">EURUSD-,Daily</text>
<text x="223.3" y="588" font-size="12.2" fill="#787884" textLength="86.7" lengthAdjust="spacingAndGlyphs">AUDUSD-,Daily</text>
<text x="333.3" y="588" font-size="12.2" fill="#000" textLength="72" lengthAdjust="spacingAndGlyphs">USDCHF-,H4</text>
<text x="428" y="588" font-size="12.2" fill="#787884" textLength="86" lengthAdjust="spacingAndGlyphs">USDCAD-,Daily</text>
<text x="537.3" y="588" font-size="12.2" fill="#787884" textLength="87.4" lengthAdjust="spacingAndGlyphs">USDCNH-,Daily</text>
<text x="648" y="588" font-size="12.2" fill="#787884" textLength="86" lengthAdjust="spacingAndGlyphs">XAUUSD-,Daily</text>
<text x="756.7" y="588" font-size="12.2" fill="#787884" textLength="68.6" lengthAdjust="spacingAndGlyphs">UKOil-,Daily</text>
<text x="848" y="588" font-size="12.2" fill="#787884" textLength="78.3" lengthAdjust="spacingAndGlyphs">DJ30-,Weekly</text>
<text x="948" y="588" font-size="12.2" fill="#787884" textLength="74" lengthAdjust="spacingAndGlyphs">UK100-,Daily</text>
<path d="M1185 579L1181.5 582.3L1185 585.6Z M1201 579L1204.5 582.3L1201 585.6Z" fill="#a0a0a0"/>
</svg>
</body></html>
